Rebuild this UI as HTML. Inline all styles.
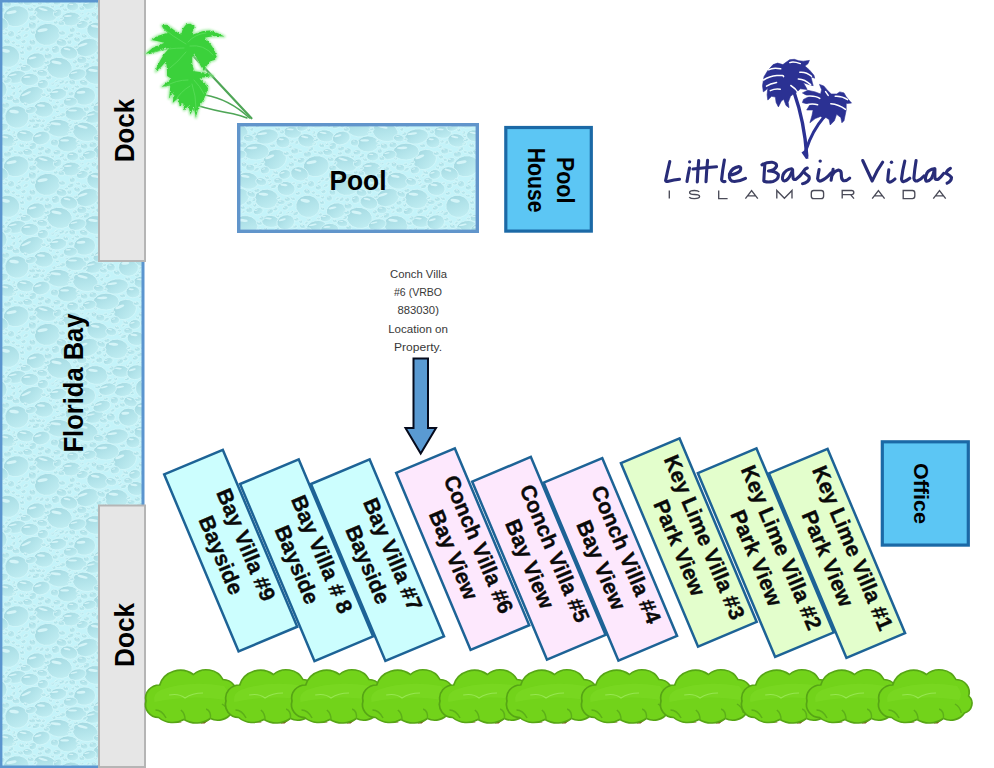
<!DOCTYPE html>
<html><head><meta charset="utf-8"><style>
html,body{margin:0;padding:0;background:#fff;overflow:hidden;width:994px;height:768px;}
svg{display:block;}
text{font-family:"Liberation Sans",sans-serif;}
.b{font-weight:bold;fill:#000;}
.vt text{font-weight:bold;font-size:21.6px;text-anchor:middle;dominant-baseline:central;fill:#0a0a0a;stroke:#0a0a0a;stroke-width:0.35px;}
.note{font-size:11.5px;fill:#383838;text-anchor:middle;}
</style></head><body>
<svg width="994" height="768" viewBox="0 0 994 768">
<defs>
<filter id="glow" x="-10%" y="-10%" width="120%" height="120%"><feGaussianBlur stdDeviation="1.3"/></filter>
<filter id="rough" x="-5%" y="-5%" width="110%" height="110%"><feTurbulence type="fractalNoise" baseFrequency="0.4" numOctaves="1" seed="4"/><feDisplacementMap in="SourceGraphic" scale="3.2" xChannelSelector="R" yChannelSelector="G"/></filter>
<linearGradient id="dg" x1="0" y1="0" x2="0.7" y2="1">
<stop offset="0" stop-color="#9dd3dc"/><stop offset="0.5" stop-color="#b0e2e9"/><stop offset="1" stop-color="#c0edf2"/>
</linearGradient>
<pattern id="water" width="150" height="150" patternUnits="userSpaceOnUse">
<rect width="150" height="150" fill="#c4f3f9"/>
<g transform="translate(128.5,117.2) rotate(-2.4)"><ellipse rx="10" ry="9" fill="url(#dg)" stroke="#d3f7fa" stroke-width="0.8"/><ellipse cx="-3" cy="-4.1" rx="4" ry="1.4" fill="#defafc" opacity="0.8"/></g>
<g transform="translate(120.6,71.4) rotate(5.7)"><ellipse rx="9" ry="6" fill="url(#dg)" stroke="#d3f7fa" stroke-width="0.8"/><ellipse cx="-2.7" cy="-2.7" rx="3.6" ry="0.9" fill="#defafc" opacity="0.8"/></g>
<g transform="translate(45.5,13.6) rotate(15.5)"><ellipse rx="12" ry="7.6" fill="url(#dg)" stroke="#d3f7fa" stroke-width="0.8"/><ellipse cx="-3.6" cy="-3.4" rx="4.8" ry="1.1" fill="#defafc" opacity="0.8"/></g>
<g transform="translate(59.4,67.9) rotate(11.9)"><ellipse rx="13" ry="10.5" fill="url(#dg)" stroke="#d3f7fa" stroke-width="0.8"/><ellipse cx="-3.9" cy="-4.7" rx="5.2" ry="1.6" fill="#defafc" opacity="0.8"/></g>
<g transform="translate(124.8,9.5) rotate(-23.2)"><ellipse rx="12" ry="9.8" fill="url(#dg)" stroke="#d3f7fa" stroke-width="0.8"/><ellipse cx="-3.6" cy="-4.4" rx="4.8" ry="1.5" fill="#defafc" opacity="0.8"/></g>
<g transform="translate(124.8,159.5) rotate(-23.2)"><ellipse rx="12" ry="9.8" fill="url(#dg)" stroke="#d3f7fa" stroke-width="0.8"/><ellipse cx="-3.6" cy="-4.4" rx="4.8" ry="1.5" fill="#defafc" opacity="0.8"/></g>
<g transform="translate(116.7,48.9) rotate(4.5)"><ellipse rx="12" ry="9.7" fill="url(#dg)" stroke="#d3f7fa" stroke-width="0.8"/><ellipse cx="-3.6" cy="-4.4" rx="4.8" ry="1.5" fill="#defafc" opacity="0.8"/></g>
<g transform="translate(96,75) rotate(8.1)"><ellipse rx="12" ry="9.4" fill="url(#dg)" stroke="#d3f7fa" stroke-width="0.8"/><ellipse cx="-3.6" cy="-4.2" rx="4.8" ry="1.4" fill="#defafc" opacity="0.8"/></g>
<g transform="translate(47.3,34.4) rotate(-10.5)"><ellipse rx="13" ry="11" fill="url(#dg)" stroke="#d3f7fa" stroke-width="0.8"/><ellipse cx="-3.9" cy="-5" rx="5.2" ry="1.7" fill="#defafc" opacity="0.8"/></g>
<g transform="translate(16.2,16.2) rotate(-10.5)"><ellipse rx="13" ry="10.4" fill="url(#dg)" stroke="#d3f7fa" stroke-width="0.8"/><ellipse cx="-3.9" cy="-4.7" rx="5.2" ry="1.6" fill="#defafc" opacity="0.8"/></g>
<g transform="translate(7.8,56.3) rotate(10.4)"><ellipse rx="12" ry="11.1" fill="url(#dg)" stroke="#d3f7fa" stroke-width="0.8"/><ellipse cx="-3.6" cy="-5" rx="4.8" ry="1.7" fill="#defafc" opacity="0.8"/></g>
<g transform="translate(157.8,56.3) rotate(10.4)"><ellipse rx="12" ry="11.1" fill="url(#dg)" stroke="#d3f7fa" stroke-width="0.8"/><ellipse cx="-3.6" cy="-5" rx="4.8" ry="1.7" fill="#defafc" opacity="0.8"/></g>
<g transform="translate(94.4,116.8) rotate(-11.5)"><ellipse rx="10" ry="6.3" fill="url(#dg)" stroke="#d3f7fa" stroke-width="0.8"/><ellipse cx="-3" cy="-2.8" rx="4" ry="0.9" fill="#defafc" opacity="0.8"/></g>
<g transform="translate(106.1,1.6) rotate(-1.8)"><ellipse rx="13" ry="8.4" fill="url(#dg)" stroke="#d3f7fa" stroke-width="0.8"/><ellipse cx="-3.9" cy="-3.8" rx="5.2" ry="1.3" fill="#defafc" opacity="0.8"/></g>
<g transform="translate(106.1,151.6) rotate(-1.8)"><ellipse rx="13" ry="8.4" fill="url(#dg)" stroke="#d3f7fa" stroke-width="0.8"/><ellipse cx="-3.9" cy="-3.8" rx="5.2" ry="1.3" fill="#defafc" opacity="0.8"/></g>
<g transform="translate(-3.8,88.9) rotate(24.9)"><ellipse rx="11" ry="9.9" fill="url(#dg)" stroke="#d3f7fa" stroke-width="0.8"/><ellipse cx="-3.3" cy="-4.5" rx="4.4" ry="1.5" fill="#defafc" opacity="0.8"/></g>
<g transform="translate(146.2,88.9) rotate(24.9)"><ellipse rx="11" ry="9.9" fill="url(#dg)" stroke="#d3f7fa" stroke-width="0.8"/><ellipse cx="-3.3" cy="-4.5" rx="4.4" ry="1.5" fill="#defafc" opacity="0.8"/></g>
<g transform="translate(59.1,128.2) rotate(7.1)"><ellipse rx="13" ry="8.8" fill="url(#dg)" stroke="#d3f7fa" stroke-width="0.8"/><ellipse cx="-3.9" cy="-3.9" rx="5.2" ry="1.3" fill="#defafc" opacity="0.8"/></g>
<g transform="translate(31.3,95.5) rotate(-24.2)"><ellipse rx="13" ry="8.1" fill="url(#dg)" stroke="#d3f7fa" stroke-width="0.8"/><ellipse cx="-3.9" cy="-3.7" rx="5.2" ry="1.2" fill="#defafc" opacity="0.8"/></g>
<g transform="translate(68,-6.1) rotate(-0.8)"><ellipse rx="11" ry="8" fill="url(#dg)" stroke="#d3f7fa" stroke-width="0.8"/><ellipse cx="-3.3" cy="-3.6" rx="4.4" ry="1.2" fill="#defafc" opacity="0.8"/></g>
<g transform="translate(68,143.9) rotate(-0.8)"><ellipse rx="11" ry="8" fill="url(#dg)" stroke="#d3f7fa" stroke-width="0.8"/><ellipse cx="-3.3" cy="-3.6" rx="4.4" ry="1.2" fill="#defafc" opacity="0.8"/></g>
<g transform="translate(57.9,94.1) rotate(-9.5)"><ellipse rx="9" ry="5.8" fill="url(#dg)" stroke="#d3f7fa" stroke-width="0.8"/><ellipse cx="-2.7" cy="-2.6" rx="3.6" ry="0.9" fill="#defafc" opacity="0.8"/></g>
<g transform="translate(-7.5,132.3) rotate(5.2)"><ellipse rx="9" ry="6" fill="url(#dg)" stroke="#d3f7fa" stroke-width="0.8"/><ellipse cx="-2.7" cy="-2.7" rx="3.6" ry="0.9" fill="#defafc" opacity="0.8"/></g>
<g transform="translate(142.5,132.3) rotate(5.2)"><ellipse rx="9" ry="6" fill="url(#dg)" stroke="#d3f7fa" stroke-width="0.8"/><ellipse cx="-2.7" cy="-2.7" rx="3.6" ry="0.9" fill="#defafc" opacity="0.8"/></g>
<g transform="translate(16.4,76.9) rotate(-12.2)"><ellipse rx="10" ry="6.2" fill="url(#dg)" stroke="#d3f7fa" stroke-width="0.8"/><ellipse cx="-3" cy="-2.8" rx="4" ry="0.9" fill="#defafc" opacity="0.8"/></g>
<g transform="translate(123.6,89.5) rotate(-10.3)"><ellipse rx="10" ry="6.9" fill="url(#dg)" stroke="#d3f7fa" stroke-width="0.8"/><ellipse cx="-3" cy="-3.1" rx="4" ry="1" fill="#defafc" opacity="0.8"/></g>
<g transform="translate(6.7,140.4) rotate(11.9)"><ellipse rx="9" ry="6.6" fill="url(#dg)" stroke="#d3f7fa" stroke-width="0.8"/><ellipse cx="-2.7" cy="-3" rx="3.6" ry="1" fill="#defafc" opacity="0.8"/></g>
<g transform="translate(156.7,140.4) rotate(11.9)"><ellipse rx="9" ry="6.6" fill="url(#dg)" stroke="#d3f7fa" stroke-width="0.8"/><ellipse cx="-2.7" cy="-3" rx="3.6" ry="1" fill="#defafc" opacity="0.8"/></g>
<g transform="translate(16.9,117) rotate(8)"><ellipse rx="12" ry="11.2" fill="url(#dg)" stroke="#d3f7fa" stroke-width="0.8"/><ellipse cx="-3.6" cy="-5" rx="4.8" ry="1.7" fill="#defafc" opacity="0.8"/></g>
<g transform="translate(25.4,135.9) rotate(8)"><ellipse rx="9" ry="6" fill="url(#dg)" stroke="#d3f7fa" stroke-width="0.8"/><ellipse cx="-2.7" cy="-2.7" rx="3.6" ry="0.9" fill="#defafc" opacity="0.8"/></g>
<g transform="translate(36.2,60.7) rotate(-12.5)"><ellipse rx="10" ry="7.7" fill="url(#dg)" stroke="#d3f7fa" stroke-width="0.8"/><ellipse cx="-3" cy="-3.5" rx="4" ry="1.2" fill="#defafc" opacity="0.8"/></g>
<g transform="translate(87.5,47.5) rotate(-18.2)"><ellipse rx="12" ry="8.8" fill="url(#dg)" stroke="#d3f7fa" stroke-width="0.8"/><ellipse cx="-3.6" cy="-4" rx="4.8" ry="1.3" fill="#defafc" opacity="0.8"/></g>
<g transform="translate(84.6,96.1) rotate(-4.7)"><ellipse rx="11" ry="9.1" fill="url(#dg)" stroke="#d3f7fa" stroke-width="0.8"/><ellipse cx="-3.3" cy="-4.1" rx="4.4" ry="1.4" fill="#defafc" opacity="0.8"/></g>
<g transform="translate(-0.5,23.9) rotate(17.4)"><ellipse rx="9" ry="7" fill="url(#dg)" stroke="#d3f7fa" stroke-width="0.8"/><ellipse cx="-2.7" cy="-3.1" rx="3.6" ry="1" fill="#defafc" opacity="0.8"/></g>
<g transform="translate(149.5,23.9) rotate(17.4)"><ellipse rx="9" ry="7" fill="url(#dg)" stroke="#d3f7fa" stroke-width="0.8"/><ellipse cx="-2.7" cy="-3.1" rx="3.6" ry="1" fill="#defafc" opacity="0.8"/></g>
<g transform="translate(85.3,131.9) rotate(14.8)"><ellipse rx="13" ry="9.5" fill="url(#dg)" stroke="#d3f7fa" stroke-width="0.8"/><ellipse cx="-3.9" cy="-4.3" rx="5.2" ry="1.4" fill="#defafc" opacity="0.8"/></g>
<g transform="translate(97.7,30.7) rotate(11.1)"><ellipse rx="11" ry="8.4" fill="url(#dg)" stroke="#d3f7fa" stroke-width="0.8"/><ellipse cx="-3.3" cy="-3.8" rx="4.4" ry="1.3" fill="#defafc" opacity="0.8"/></g>
<g transform="translate(41.3,138) rotate(-14.1)"><ellipse rx="9" ry="6.7" fill="url(#dg)" stroke="#d3f7fa" stroke-width="0.8"/><ellipse cx="-2.7" cy="-3" rx="3.6" ry="1" fill="#defafc" opacity="0.8"/></g>
<g transform="translate(43.5,109.3) rotate(6.9)"><ellipse rx="10" ry="7.8" fill="url(#dg)" stroke="#d3f7fa" stroke-width="0.8"/><ellipse cx="-3" cy="-3.5" rx="4" ry="1.2" fill="#defafc" opacity="0.8"/></g>
<g transform="translate(136.1,38.5) rotate(8.6)"><ellipse rx="9" ry="7" fill="url(#dg)" stroke="#d3f7fa" stroke-width="0.8"/><ellipse cx="-2.7" cy="-3.2" rx="3.6" ry="1.1" fill="#defafc" opacity="0.8"/></g>
<g transform="translate(71,19) rotate(-3.3)"><ellipse rx="10" ry="6.9" fill="url(#dg)" stroke="#d3f7fa" stroke-width="0.8"/><ellipse cx="-3" cy="-3.1" rx="4" ry="1" fill="#defafc" opacity="0.8"/></g>
<g transform="translate(29.7,79.6) rotate(-3.2)"><ellipse rx="9" ry="6.2" fill="url(#dg)" stroke="#d3f7fa" stroke-width="0.8"/><ellipse cx="-2.7" cy="-2.8" rx="3.6" ry="0.9" fill="#defafc" opacity="0.8"/></g>
<g transform="translate(75.9,113.7) rotate(0.1)"><ellipse rx="11" ry="7" fill="url(#dg)" stroke="#d3f7fa" stroke-width="0.8"/><ellipse cx="-3.3" cy="-3.2" rx="4.4" ry="1.1" fill="#defafc" opacity="0.8"/></g>
<g transform="translate(135.8,72.2) rotate(-15.5)"><ellipse rx="9" ry="7.3" fill="url(#dg)" stroke="#d3f7fa" stroke-width="0.8"/><ellipse cx="-2.7" cy="-3.3" rx="3.6" ry="1.1" fill="#defafc" opacity="0.8"/></g>
<g transform="translate(77.2,74.6) rotate(-14.3)"><ellipse rx="9" ry="5.6" fill="url(#dg)" stroke="#d3f7fa" stroke-width="0.8"/><ellipse cx="-2.7" cy="-2.5" rx="3.6" ry="0.8" fill="#defafc" opacity="0.8"/></g>
<g transform="translate(-4.8,109.5) rotate(0.8)"><ellipse rx="11" ry="7.5" fill="url(#dg)" stroke="#d3f7fa" stroke-width="0.8"/><ellipse cx="-3.3" cy="-3.4" rx="4.4" ry="1.1" fill="#defafc" opacity="0.8"/></g>
<g transform="translate(145.2,109.5) rotate(0.8)"><ellipse rx="11" ry="7.5" fill="url(#dg)" stroke="#d3f7fa" stroke-width="0.8"/><ellipse cx="-3.3" cy="-3.4" rx="4.4" ry="1.1" fill="#defafc" opacity="0.8"/></g>
<g transform="translate(68.9,52.6) rotate(15.4)"><ellipse rx="9" ry="6.5" fill="url(#dg)" stroke="#d3f7fa" stroke-width="0.8"/><ellipse cx="-2.7" cy="-2.9" rx="3.6" ry="1" fill="#defafc" opacity="0.8"/></g>
<g transform="translate(107.6,89.2) rotate(-13.8)"><ellipse rx="9" ry="6.1" fill="url(#dg)" stroke="#d3f7fa" stroke-width="0.8"/><ellipse cx="-2.7" cy="-2.8" rx="3.6" ry="0.9" fill="#defafc" opacity="0.8"/></g>
<g transform="translate(101.7,106.2) rotate(-16)"><ellipse rx="9" ry="5.7" fill="url(#dg)" stroke="#d3f7fa" stroke-width="0.8"/><ellipse cx="-2.7" cy="-2.6" rx="3.6" ry="0.9" fill="#defafc" opacity="0.8"/></g>
<g transform="translate(116.5,136.5) rotate(-9)"><ellipse rx="12" ry="7.5" fill="url(#dg)" stroke="#d3f7fa" stroke-width="0.8"/><ellipse cx="-3.6" cy="-3.4" rx="4.8" ry="1.1" fill="#defafc" opacity="0.8"/></g>
<g transform="translate(110.8,117.1) rotate(13.3)"><ellipse rx="4.5" ry="4" fill="url(#dg)" stroke="#d3f7fa" stroke-width="0.8"/><ellipse cx="-1.3" cy="-1.8" rx="1.8" ry="0.6" fill="#defafc" opacity="0.8"/></g>
<g transform="translate(123.1,25.7) rotate(-12.3)"><ellipse rx="2" ry="1.3" fill="url(#dg)" stroke="#d3f7fa" stroke-width="0.8"/><ellipse cx="-0.6" cy="-0.6" rx="0.8" ry="0.5" fill="#defafc" opacity="0.8"/></g>
<g transform="translate(139.9,54.6) rotate(-8.1)"><ellipse rx="3" ry="2.3" fill="url(#dg)" stroke="#d3f7fa" stroke-width="0.8"/><ellipse cx="-0.9" cy="-1" rx="1.2" ry="0.5" fill="#defafc" opacity="0.8"/></g>
<g transform="translate(82.4,24.6) rotate(-14.8)"><ellipse rx="6" ry="4" fill="url(#dg)" stroke="#d3f7fa" stroke-width="0.8"/><ellipse cx="-1.8" cy="-1.8" rx="2.4" ry="0.6" fill="#defafc" opacity="0.8"/></g>
<g transform="translate(101.9,129.4) rotate(-14.8)"><ellipse rx="2" ry="1.9" fill="url(#dg)" stroke="#d3f7fa" stroke-width="0.8"/><ellipse cx="-0.6" cy="-0.9" rx="0.8" ry="0.5" fill="#defafc" opacity="0.8"/></g>
<g transform="translate(7.1,41.5) rotate(22.4)"><ellipse rx="3.5" ry="2.6" fill="url(#dg)" stroke="#d3f7fa" stroke-width="0.8"/><ellipse cx="-1.1" cy="-1.2" rx="1.4" ry="0.5" fill="#defafc" opacity="0.8"/></g>
<g transform="translate(36.1,125.9) rotate(-19)"><ellipse rx="4" ry="2.6" fill="url(#dg)" stroke="#d3f7fa" stroke-width="0.8"/><ellipse cx="-1.2" cy="-1.2" rx="1.6" ry="0.5" fill="#defafc" opacity="0.8"/></g>
<g transform="translate(89.3,4.8) rotate(-9.4)"><ellipse rx="7" ry="4.6" fill="url(#dg)" stroke="#d3f7fa" stroke-width="0.8"/><ellipse cx="-2.1" cy="-2.1" rx="2.8" ry="0.7" fill="#defafc" opacity="0.8"/></g>
<g transform="translate(89.3,154.8) rotate(-9.4)"><ellipse rx="7" ry="4.6" fill="url(#dg)" stroke="#d3f7fa" stroke-width="0.8"/><ellipse cx="-2.1" cy="-2.1" rx="2.8" ry="0.7" fill="#defafc" opacity="0.8"/></g>
<g transform="translate(22.5,28.9) rotate(-13.6)"><ellipse rx="2" ry="1.9" fill="url(#dg)" stroke="#d3f7fa" stroke-width="0.8"/><ellipse cx="-0.6" cy="-0.8" rx="0.8" ry="0.5" fill="#defafc" opacity="0.8"/></g>
<g transform="translate(37.4,48.7) rotate(-16.1)"><ellipse rx="2" ry="1.4" fill="url(#dg)" stroke="#d3f7fa" stroke-width="0.8"/><ellipse cx="-0.6" cy="-0.6" rx="0.8" ry="0.5" fill="#defafc" opacity="0.8"/></g>
<g transform="translate(93.2,61.9) rotate(-0.9)"><ellipse rx="2" ry="1.2" fill="url(#dg)" stroke="#d3f7fa" stroke-width="0.8"/><ellipse cx="-0.6" cy="-0.6" rx="0.8" ry="0.5" fill="#defafc" opacity="0.8"/></g>
<g transform="translate(128.4,30.7) rotate(3.2)"><ellipse rx="4.5" ry="3" fill="url(#dg)" stroke="#d3f7fa" stroke-width="0.8"/><ellipse cx="-1.3" cy="-1.3" rx="1.8" ry="0.5" fill="#defafc" opacity="0.8"/></g>
<g transform="translate(27.7,2.1) rotate(4.3)"><ellipse rx="5" ry="3.4" fill="url(#dg)" stroke="#d3f7fa" stroke-width="0.8"/><ellipse cx="-1.5" cy="-1.5" rx="2" ry="0.5" fill="#defafc" opacity="0.8"/></g>
<g transform="translate(27.7,152.1) rotate(4.3)"><ellipse rx="5" ry="3.4" fill="url(#dg)" stroke="#d3f7fa" stroke-width="0.8"/><ellipse cx="-1.5" cy="-1.5" rx="2" ry="0.5" fill="#defafc" opacity="0.8"/></g>
<g transform="translate(108.3,61.2) rotate(-17.9)"><ellipse rx="5" ry="3.4" fill="url(#dg)" stroke="#d3f7fa" stroke-width="0.8"/><ellipse cx="-1.5" cy="-1.5" rx="2" ry="0.5" fill="#defafc" opacity="0.8"/></g>
<g transform="translate(32.5,42.4) rotate(18.3)"><ellipse rx="3.5" ry="2.9" fill="url(#dg)" stroke="#d3f7fa" stroke-width="0.8"/><ellipse cx="-1.1" cy="-1.3" rx="1.4" ry="0.5" fill="#defafc" opacity="0.8"/></g>
<g transform="translate(16.1,140) rotate(-12.4)"><ellipse rx="2.5" ry="1.7" fill="url(#dg)" stroke="#d3f7fa" stroke-width="0.8"/><ellipse cx="-0.8" cy="-0.7" rx="1" ry="0.5" fill="#defafc" opacity="0.8"/></g>
<g transform="translate(52.7,84) rotate(2.9)"><ellipse rx="2" ry="1.2" fill="url(#dg)" stroke="#d3f7fa" stroke-width="0.8"/><ellipse cx="-0.6" cy="-0.6" rx="0.8" ry="0.5" fill="#defafc" opacity="0.8"/></g>
<g transform="translate(141.1,7) rotate(17.9)"><ellipse rx="2.5" ry="2" fill="url(#dg)" stroke="#d3f7fa" stroke-width="0.8"/><ellipse cx="-0.8" cy="-0.9" rx="1" ry="0.5" fill="#defafc" opacity="0.8"/></g>
<g transform="translate(136.4,3.5) rotate(3.8)"><ellipse rx="3" ry="2.1" fill="url(#dg)" stroke="#d3f7fa" stroke-width="0.8"/><ellipse cx="-0.9" cy="-0.9" rx="1.2" ry="0.5" fill="#defafc" opacity="0.8"/></g>
<g transform="translate(10,98) rotate(4.7)"><ellipse rx="4" ry="2.8" fill="url(#dg)" stroke="#d3f7fa" stroke-width="0.8"/><ellipse cx="-1.2" cy="-1.3" rx="1.6" ry="0.5" fill="#defafc" opacity="0.8"/></g>
<g transform="translate(111.2,31.7) rotate(12.2)"><ellipse rx="5.5" ry="3.9" fill="url(#dg)" stroke="#d3f7fa" stroke-width="0.8"/><ellipse cx="-1.6" cy="-1.8" rx="2.2" ry="0.6" fill="#defafc" opacity="0.8"/></g>
<g transform="translate(122.5,105) rotate(17.2)"><ellipse rx="3" ry="2.2" fill="url(#dg)" stroke="#d3f7fa" stroke-width="0.8"/><ellipse cx="-0.9" cy="-1" rx="1.2" ry="0.5" fill="#defafc" opacity="0.8"/></g>
<g transform="translate(1.2,10.4) rotate(-14.7)"><ellipse rx="4" ry="2.8" fill="url(#dg)" stroke="#d3f7fa" stroke-width="0.8"/><ellipse cx="-1.2" cy="-1.3" rx="1.6" ry="0.5" fill="#defafc" opacity="0.8"/></g>
<g transform="translate(151.2,10.4) rotate(-14.7)"><ellipse rx="4" ry="2.8" fill="url(#dg)" stroke="#d3f7fa" stroke-width="0.8"/><ellipse cx="-1.2" cy="-1.3" rx="1.6" ry="0.5" fill="#defafc" opacity="0.8"/></g>
<g transform="translate(62.1,33.1) rotate(7)"><ellipse rx="3.5" ry="2.3" fill="url(#dg)" stroke="#d3f7fa" stroke-width="0.8"/><ellipse cx="-1.1" cy="-1.1" rx="1.4" ry="0.5" fill="#defafc" opacity="0.8"/></g>
<g transform="translate(84.2,-3.8) rotate(13.8)"><ellipse rx="4" ry="3" fill="url(#dg)" stroke="#d3f7fa" stroke-width="0.8"/><ellipse cx="-1.2" cy="-1.3" rx="1.6" ry="0.5" fill="#defafc" opacity="0.8"/></g>
<g transform="translate(84.2,146.2) rotate(13.8)"><ellipse rx="4" ry="3" fill="url(#dg)" stroke="#d3f7fa" stroke-width="0.8"/><ellipse cx="-1.2" cy="-1.3" rx="1.6" ry="0.5" fill="#defafc" opacity="0.8"/></g>
<g transform="translate(133,142) rotate(3.4)"><ellipse rx="7" ry="5.8" fill="url(#dg)" stroke="#d3f7fa" stroke-width="0.8"/><ellipse cx="-2.1" cy="-2.6" rx="2.8" ry="0.9" fill="#defafc" opacity="0.8"/></g>
<g transform="translate(144.9,1.1) rotate(4.7)"><ellipse rx="4" ry="3" fill="url(#dg)" stroke="#d3f7fa" stroke-width="0.8"/><ellipse cx="-1.2" cy="-1.3" rx="1.6" ry="0.5" fill="#defafc" opacity="0.8"/></g>
<g transform="translate(144.9,151.1) rotate(4.7)"><ellipse rx="4" ry="3" fill="url(#dg)" stroke="#d3f7fa" stroke-width="0.8"/><ellipse cx="-1.2" cy="-1.3" rx="1.6" ry="0.5" fill="#defafc" opacity="0.8"/></g>
<g transform="translate(72.3,82.4) rotate(17.7)"><ellipse rx="3.5" ry="2.7" fill="url(#dg)" stroke="#d3f7fa" stroke-width="0.8"/><ellipse cx="-1.1" cy="-1.2" rx="1.4" ry="0.5" fill="#defafc" opacity="0.8"/></g>
<g transform="translate(54.6,142.7) rotate(10.9)"><ellipse rx="4" ry="3.4" fill="url(#dg)" stroke="#d3f7fa" stroke-width="0.8"/><ellipse cx="-1.2" cy="-1.5" rx="1.6" ry="0.5" fill="#defafc" opacity="0.8"/></g>
<g transform="translate(43,84.1) rotate(-11.9)"><ellipse rx="5.5" ry="4.6" fill="url(#dg)" stroke="#d3f7fa" stroke-width="0.8"/><ellipse cx="-1.6" cy="-2.1" rx="2.2" ry="0.7" fill="#defafc" opacity="0.8"/></g>
<g transform="translate(70.4,101.8) rotate(-3.1)"><ellipse rx="7" ry="4.6" fill="url(#dg)" stroke="#d3f7fa" stroke-width="0.8"/><ellipse cx="-2.1" cy="-2.1" rx="2.8" ry="0.7" fill="#defafc" opacity="0.8"/></g>
<g transform="translate(99.4,60.1) rotate(-0.1)"><ellipse rx="3.5" ry="2.9" fill="url(#dg)" stroke="#d3f7fa" stroke-width="0.8"/><ellipse cx="-1.1" cy="-1.3" rx="1.4" ry="0.5" fill="#defafc" opacity="0.8"/></g>
<g transform="translate(47.9,95.9) rotate(-21.9)"><ellipse rx="2.5" ry="1.5" fill="url(#dg)" stroke="#d3f7fa" stroke-width="0.8"/><ellipse cx="-0.8" cy="-0.7" rx="1" ry="0.5" fill="#defafc" opacity="0.8"/></g>
<g transform="translate(22.7,47.4) rotate(8.3)"><ellipse rx="2" ry="1.8" fill="url(#dg)" stroke="#d3f7fa" stroke-width="0.8"/><ellipse cx="-0.6" cy="-0.8" rx="0.8" ry="0.5" fill="#defafc" opacity="0.8"/></g>
<g transform="translate(106.6,19.3) rotate(-22.3)"><ellipse rx="3" ry="1.8" fill="url(#dg)" stroke="#d3f7fa" stroke-width="0.8"/><ellipse cx="-0.9" cy="-0.8" rx="1.2" ry="0.5" fill="#defafc" opacity="0.8"/></g>
<g transform="translate(57.5,111.4) rotate(11.5)"><ellipse rx="2" ry="1.5" fill="url(#dg)" stroke="#d3f7fa" stroke-width="0.8"/><ellipse cx="-0.6" cy="-0.7" rx="0.8" ry="0.5" fill="#defafc" opacity="0.8"/></g>
<g transform="translate(11.2,34) rotate(-13.6)"><ellipse rx="3.5" ry="3.2" fill="url(#dg)" stroke="#d3f7fa" stroke-width="0.8"/><ellipse cx="-1.1" cy="-1.4" rx="1.4" ry="0.5" fill="#defafc" opacity="0.8"/></g>
<g transform="translate(62.4,115) rotate(-12)"><ellipse rx="3.5" ry="2.1" fill="url(#dg)" stroke="#d3f7fa" stroke-width="0.8"/><ellipse cx="-1.1" cy="-1" rx="1.4" ry="0.5" fill="#defafc" opacity="0.8"/></g>
<g transform="translate(43.4,120.9) rotate(-4)"><ellipse rx="2" ry="1.7" fill="url(#dg)" stroke="#d3f7fa" stroke-width="0.8"/><ellipse cx="-0.6" cy="-0.7" rx="0.8" ry="0.5" fill="#defafc" opacity="0.8"/></g>
<g transform="translate(75.1,62) rotate(-5.5)"><ellipse rx="2.5" ry="2.1" fill="url(#dg)" stroke="#d3f7fa" stroke-width="0.8"/><ellipse cx="-0.8" cy="-0.9" rx="1" ry="0.5" fill="#defafc" opacity="0.8"/></g>
<g transform="translate(111.7,68.2) rotate(-5.1)"><ellipse rx="2.5" ry="2.1" fill="url(#dg)" stroke="#d3f7fa" stroke-width="0.8"/><ellipse cx="-0.8" cy="-0.9" rx="1" ry="0.5" fill="#defafc" opacity="0.8"/></g>
<g transform="translate(46.5,129.3) rotate(0.8)"><ellipse rx="3" ry="2.3" fill="url(#dg)" stroke="#d3f7fa" stroke-width="0.8"/><ellipse cx="-0.9" cy="-1.1" rx="1.2" ry="0.5" fill="#defafc" opacity="0.8"/></g>
<g transform="translate(82,8.4) rotate(10.5)"><ellipse rx="3" ry="2.4" fill="url(#dg)" stroke="#d3f7fa" stroke-width="0.8"/><ellipse cx="-0.9" cy="-1.1" rx="1.2" ry="0.5" fill="#defafc" opacity="0.8"/></g>
<g transform="translate(-2.3,120.8) rotate(20.1)"><ellipse rx="2" ry="1.7" fill="url(#dg)" stroke="#d3f7fa" stroke-width="0.8"/><ellipse cx="-0.6" cy="-0.7" rx="0.8" ry="0.5" fill="#defafc" opacity="0.8"/></g>
<g transform="translate(147.7,120.8) rotate(20.1)"><ellipse rx="2" ry="1.7" fill="url(#dg)" stroke="#d3f7fa" stroke-width="0.8"/><ellipse cx="-0.6" cy="-0.7" rx="0.8" ry="0.5" fill="#defafc" opacity="0.8"/></g>
<g transform="translate(48,1.1) rotate(-4.5)"><ellipse rx="3.5" ry="3.2" fill="url(#dg)" stroke="#d3f7fa" stroke-width="0.8"/><ellipse cx="-1.1" cy="-1.5" rx="1.4" ry="0.5" fill="#defafc" opacity="0.8"/></g>
<g transform="translate(48,151.1) rotate(-4.5)"><ellipse rx="3.5" ry="3.2" fill="url(#dg)" stroke="#d3f7fa" stroke-width="0.8"/><ellipse cx="-1.1" cy="-1.5" rx="1.4" ry="0.5" fill="#defafc" opacity="0.8"/></g>
<g transform="translate(55.7,49.5) rotate(-17.6)"><ellipse rx="4" ry="3.8" fill="url(#dg)" stroke="#d3f7fa" stroke-width="0.8"/><ellipse cx="-1.2" cy="-1.7" rx="1.6" ry="0.6" fill="#defafc" opacity="0.8"/></g>
<g transform="translate(72.7,6.4) rotate(2.1)"><ellipse rx="6" ry="4.5" fill="url(#dg)" stroke="#d3f7fa" stroke-width="0.8"/><ellipse cx="-1.8" cy="-2" rx="2.4" ry="0.7" fill="#defafc" opacity="0.8"/></g>
<g transform="translate(84.3,36.2) rotate(11.2)"><ellipse rx="3" ry="2.1" fill="url(#dg)" stroke="#d3f7fa" stroke-width="0.8"/><ellipse cx="-0.9" cy="-0.9" rx="1.2" ry="0.5" fill="#defafc" opacity="0.8"/></g>
<g transform="translate(18.5,37.5) rotate(-1.7)"><ellipse rx="3" ry="2.6" fill="url(#dg)" stroke="#d3f7fa" stroke-width="0.8"/><ellipse cx="-0.9" cy="-1.2" rx="1.2" ry="0.5" fill="#defafc" opacity="0.8"/></g>
<g transform="translate(14,132.6) rotate(-21.5)"><ellipse rx="2" ry="1.6" fill="url(#dg)" stroke="#d3f7fa" stroke-width="0.8"/><ellipse cx="-0.6" cy="-0.7" rx="0.8" ry="0.5" fill="#defafc" opacity="0.8"/></g>
<g transform="translate(8.9,69.9) rotate(2.4)"><ellipse rx="2.5" ry="1.5" fill="url(#dg)" stroke="#d3f7fa" stroke-width="0.8"/><ellipse cx="-0.8" cy="-0.7" rx="1" ry="0.5" fill="#defafc" opacity="0.8"/></g>
<g transform="translate(81.9,60) rotate(3.3)"><ellipse rx="5" ry="3.7" fill="url(#dg)" stroke="#d3f7fa" stroke-width="0.8"/><ellipse cx="-1.5" cy="-1.7" rx="2" ry="0.6" fill="#defafc" opacity="0.8"/></g>
<g transform="translate(13.9,93.4) rotate(-24.6)"><ellipse rx="2" ry="1.8" fill="url(#dg)" stroke="#d3f7fa" stroke-width="0.8"/><ellipse cx="-0.6" cy="-0.8" rx="0.8" ry="0.5" fill="#defafc" opacity="0.8"/></g>
<g transform="translate(145.3,76.6) rotate(-11.6)"><ellipse rx="2.5" ry="1.6" fill="url(#dg)" stroke="#d3f7fa" stroke-width="0.8"/><ellipse cx="-0.8" cy="-0.7" rx="1" ry="0.5" fill="#defafc" opacity="0.8"/></g>
<g transform="translate(25.6,68.1) rotate(-3.6)"><ellipse rx="5.5" ry="3.5" fill="url(#dg)" stroke="#d3f7fa" stroke-width="0.8"/><ellipse cx="-1.6" cy="-1.6" rx="2.2" ry="0.5" fill="#defafc" opacity="0.8"/></g>
<g transform="translate(2.7,127.2) rotate(-17)"><ellipse rx="6" ry="3.8" fill="url(#dg)" stroke="#d3f7fa" stroke-width="0.8"/><ellipse cx="-1.8" cy="-1.7" rx="2.4" ry="0.6" fill="#defafc" opacity="0.8"/></g>
<g transform="translate(152.7,127.2) rotate(-17)"><ellipse rx="6" ry="3.8" fill="url(#dg)" stroke="#d3f7fa" stroke-width="0.8"/><ellipse cx="-1.8" cy="-1.7" rx="2.4" ry="0.6" fill="#defafc" opacity="0.8"/></g>
<g transform="translate(32.4,25.6) rotate(9.1)"><ellipse rx="4" ry="3.6" fill="url(#dg)" stroke="#d3f7fa" stroke-width="0.8"/><ellipse cx="-1.2" cy="-1.6" rx="1.6" ry="0.5" fill="#defafc" opacity="0.8"/></g>
<g transform="translate(-2,43.4) rotate(-3.4)"><ellipse rx="2.5" ry="1.9" fill="url(#dg)" stroke="#d3f7fa" stroke-width="0.8"/><ellipse cx="-0.8" cy="-0.9" rx="1" ry="0.5" fill="#defafc" opacity="0.8"/></g>
<g transform="translate(148,43.4) rotate(-3.4)"><ellipse rx="2.5" ry="1.9" fill="url(#dg)" stroke="#d3f7fa" stroke-width="0.8"/><ellipse cx="-0.8" cy="-0.9" rx="1" ry="0.5" fill="#defafc" opacity="0.8"/></g>
<g transform="translate(130.4,101.8) rotate(19.6)"><ellipse rx="7" ry="4.8" fill="url(#dg)" stroke="#d3f7fa" stroke-width="0.8"/><ellipse cx="-2.1" cy="-2.2" rx="2.8" ry="0.7" fill="#defafc" opacity="0.8"/></g>
<g transform="translate(57.7,13) rotate(-24.1)"><ellipse rx="4.5" ry="3.7" fill="url(#dg)" stroke="#d3f7fa" stroke-width="0.8"/><ellipse cx="-1.3" cy="-1.7" rx="1.8" ry="0.6" fill="#defafc" opacity="0.8"/></g>
<g transform="translate(72.4,30) rotate(-0.4)"><ellipse rx="3" ry="2.8" fill="url(#dg)" stroke="#d3f7fa" stroke-width="0.8"/><ellipse cx="-0.9" cy="-1.2" rx="1.2" ry="0.5" fill="#defafc" opacity="0.8"/></g>
<g transform="translate(88.1,13.7) rotate(-12.9)"><ellipse rx="2" ry="1.4" fill="url(#dg)" stroke="#d3f7fa" stroke-width="0.8"/><ellipse cx="-0.6" cy="-0.6" rx="0.8" ry="0.5" fill="#defafc" opacity="0.8"/></g>
<g transform="translate(98.8,138.3) rotate(9.4)"><ellipse rx="5.5" ry="3.5" fill="url(#dg)" stroke="#d3f7fa" stroke-width="0.8"/><ellipse cx="-1.6" cy="-1.6" rx="2.2" ry="0.5" fill="#defafc" opacity="0.8"/></g>
<g transform="translate(55.3,107.1) rotate(-0.4)"><ellipse rx="3" ry="2.3" fill="url(#dg)" stroke="#d3f7fa" stroke-width="0.8"/><ellipse cx="-0.9" cy="-1.1" rx="1.2" ry="0.5" fill="#defafc" opacity="0.8"/></g>
<g transform="translate(35,116.8) rotate(13.4)"><ellipse rx="2.5" ry="1.6" fill="url(#dg)" stroke="#d3f7fa" stroke-width="0.8"/><ellipse cx="-0.8" cy="-0.7" rx="1" ry="0.5" fill="#defafc" opacity="0.8"/></g>
<g transform="translate(79.9,1.2) rotate(3.5)"><ellipse rx="2.5" ry="2.4" fill="url(#dg)" stroke="#d3f7fa" stroke-width="0.8"/><ellipse cx="-0.8" cy="-1.1" rx="1" ry="0.5" fill="#defafc" opacity="0.8"/></g>
<g transform="translate(79.9,151.2) rotate(3.5)"><ellipse rx="2.5" ry="2.4" fill="url(#dg)" stroke="#d3f7fa" stroke-width="0.8"/><ellipse cx="-0.8" cy="-1.1" rx="1" ry="0.5" fill="#defafc" opacity="0.8"/></g>
<g transform="translate(94.1,14.6) rotate(20.1)"><ellipse rx="3" ry="2.6" fill="url(#dg)" stroke="#d3f7fa" stroke-width="0.8"/><ellipse cx="-0.9" cy="-1.2" rx="1.2" ry="0.5" fill="#defafc" opacity="0.8"/></g>
<g transform="translate(146.5,69.3) rotate(-2.7)"><ellipse rx="2.5" ry="1.9" fill="url(#dg)" stroke="#d3f7fa" stroke-width="0.8"/><ellipse cx="-0.8" cy="-0.9" rx="1" ry="0.5" fill="#defafc" opacity="0.8"/></g>
<g transform="translate(71.6,129.1) rotate(6.5)"><ellipse rx="2.5" ry="1.5" fill="url(#dg)" stroke="#d3f7fa" stroke-width="0.8"/><ellipse cx="-0.8" cy="-0.7" rx="1" ry="0.5" fill="#defafc" opacity="0.8"/></g>
<g transform="translate(7.6,4.3) rotate(5.3)"><ellipse rx="4" ry="3" fill="url(#dg)" stroke="#d3f7fa" stroke-width="0.8"/><ellipse cx="-1.2" cy="-1.4" rx="1.6" ry="0.5" fill="#defafc" opacity="0.8"/></g>
<g transform="translate(134.7,24.4) rotate(-14)"><ellipse rx="6" ry="4.8" fill="url(#dg)" stroke="#d3f7fa" stroke-width="0.8"/><ellipse cx="-1.8" cy="-2.2" rx="2.4" ry="0.7" fill="#defafc" opacity="0.8"/></g>
<g transform="translate(33.1,32.4) rotate(18)"><ellipse rx="2.5" ry="2" fill="url(#dg)" stroke="#d3f7fa" stroke-width="0.8"/><ellipse cx="-0.8" cy="-0.9" rx="1" ry="0.5" fill="#defafc" opacity="0.8"/></g>
<g transform="translate(86.7,19) rotate(-6.2)"><ellipse rx="3" ry="2.2" fill="url(#dg)" stroke="#d3f7fa" stroke-width="0.8"/><ellipse cx="-0.9" cy="-1" rx="1.2" ry="0.5" fill="#defafc" opacity="0.8"/></g>
<g transform="translate(47.3,49.8) rotate(-3.4)"><ellipse rx="2.5" ry="2.2" fill="url(#dg)" stroke="#d3f7fa" stroke-width="0.8"/><ellipse cx="-0.8" cy="-1" rx="1" ry="0.5" fill="#defafc" opacity="0.8"/></g>
<g transform="translate(104.8,55.3) rotate(12.3)"><ellipse rx="2" ry="1.9" fill="url(#dg)" stroke="#d3f7fa" stroke-width="0.8"/><ellipse cx="-0.6" cy="-0.8" rx="0.8" ry="0.5" fill="#defafc" opacity="0.8"/></g>
<g transform="translate(82,66.8) rotate(-18.9)"><ellipse rx="2" ry="1.3" fill="url(#dg)" stroke="#d3f7fa" stroke-width="0.8"/><ellipse cx="-0.6" cy="-0.6" rx="0.8" ry="0.5" fill="#defafc" opacity="0.8"/></g>
<g transform="translate(40.1,3.5) rotate(-2.6)"><ellipse rx="2.5" ry="1.7" fill="url(#dg)" stroke="#d3f7fa" stroke-width="0.8"/><ellipse cx="-0.8" cy="-0.8" rx="1" ry="0.5" fill="#defafc" opacity="0.8"/></g>
<g transform="translate(120.2,34) rotate(-12.7)"><ellipse rx="2" ry="1.2" fill="url(#dg)" stroke="#d3f7fa" stroke-width="0.8"/><ellipse cx="-0.6" cy="-0.6" rx="0.8" ry="0.5" fill="#defafc" opacity="0.8"/></g>
<g transform="translate(34.4,5.8) rotate(14.4)"><ellipse rx="2" ry="1.4" fill="url(#dg)" stroke="#d3f7fa" stroke-width="0.8"/><ellipse cx="-0.6" cy="-0.7" rx="0.8" ry="0.5" fill="#defafc" opacity="0.8"/></g>
<g transform="translate(30.7,9.4) rotate(9.7)"><ellipse rx="3.5" ry="2.3" fill="url(#dg)" stroke="#d3f7fa" stroke-width="0.8"/><ellipse cx="-1.1" cy="-1" rx="1.4" ry="0.5" fill="#defafc" opacity="0.8"/></g>
<g transform="translate(65.8,88.5) rotate(22.5)"><ellipse rx="3" ry="2.1" fill="url(#dg)" stroke="#d3f7fa" stroke-width="0.8"/><ellipse cx="-0.9" cy="-0.9" rx="1.2" ry="0.5" fill="#defafc" opacity="0.8"/></g>
<g transform="translate(70.8,35.7) rotate(-19.3)"><ellipse rx="3.5" ry="2.2" fill="url(#dg)" stroke="#d3f7fa" stroke-width="0.8"/><ellipse cx="-1.1" cy="-1" rx="1.4" ry="0.5" fill="#defafc" opacity="0.8"/></g>
<g transform="translate(0.9,71.8) rotate(9.7)"><ellipse rx="2" ry="1.7" fill="url(#dg)" stroke="#d3f7fa" stroke-width="0.8"/><ellipse cx="-0.6" cy="-0.8" rx="0.8" ry="0.5" fill="#defafc" opacity="0.8"/></g>
<g transform="translate(150.9,71.8) rotate(9.7)"><ellipse rx="2" ry="1.7" fill="url(#dg)" stroke="#d3f7fa" stroke-width="0.8"/><ellipse cx="-0.6" cy="-0.8" rx="0.8" ry="0.5" fill="#defafc" opacity="0.8"/></g>
<g transform="translate(29.5,48.4) rotate(4.1)"><ellipse rx="3" ry="2.8" fill="url(#dg)" stroke="#d3f7fa" stroke-width="0.8"/><ellipse cx="-0.9" cy="-1.3" rx="1.2" ry="0.5" fill="#defafc" opacity="0.8"/></g>
<g transform="translate(19.6,86.7) rotate(-18.8)"><ellipse rx="2" ry="1.4" fill="url(#dg)" stroke="#d3f7fa" stroke-width="0.8"/><ellipse cx="-0.6" cy="-0.6" rx="0.8" ry="0.5" fill="#defafc" opacity="0.8"/></g>
<g transform="translate(16,101) rotate(12.3)"><ellipse rx="4" ry="2.8" fill="url(#dg)" stroke="#d3f7fa" stroke-width="0.8"/><ellipse cx="-1.2" cy="-1.3" rx="1.6" ry="0.5" fill="#defafc" opacity="0.8"/></g>
<g transform="translate(116.9,122.7) rotate(19.2)"><ellipse rx="3.5" ry="2.5" fill="url(#dg)" stroke="#d3f7fa" stroke-width="0.8"/><ellipse cx="-1.1" cy="-1.1" rx="1.4" ry="0.5" fill="#defafc" opacity="0.8"/></g>
<g transform="translate(31,110.1) rotate(-13.6)"><ellipse rx="5.5" ry="3.5" fill="url(#dg)" stroke="#d3f7fa" stroke-width="0.8"/><ellipse cx="-1.6" cy="-1.6" rx="2.2" ry="0.5" fill="#defafc" opacity="0.8"/></g>
<g transform="translate(123.7,36.5) rotate(-15.6)"><ellipse rx="3" ry="2.1" fill="url(#dg)" stroke="#d3f7fa" stroke-width="0.8"/><ellipse cx="-0.9" cy="-0.9" rx="1.2" ry="0.5" fill="#defafc" opacity="0.8"/></g>
<g transform="translate(61.6,42.7) rotate(9.4)"><ellipse rx="5.5" ry="3.8" fill="url(#dg)" stroke="#d3f7fa" stroke-width="0.8"/><ellipse cx="-1.6" cy="-1.7" rx="2.2" ry="0.6" fill="#defafc" opacity="0.8"/></g>
<g transform="translate(77.1,86.7) rotate(11)"><ellipse rx="2.5" ry="1.7" fill="url(#dg)" stroke="#d3f7fa" stroke-width="0.8"/><ellipse cx="-0.8" cy="-0.8" rx="1" ry="0.5" fill="#defafc" opacity="0.8"/></g>
<g transform="translate(22.1,52.6) rotate(12.2)"><ellipse rx="2.5" ry="2.1" fill="url(#dg)" stroke="#d3f7fa" stroke-width="0.8"/><ellipse cx="-0.8" cy="-0.9" rx="1" ry="0.5" fill="#defafc" opacity="0.8"/></g>
<g transform="translate(93.1,145) rotate(-4.7)"><ellipse rx="4" ry="3" fill="url(#dg)" stroke="#d3f7fa" stroke-width="0.8"/><ellipse cx="-1.2" cy="-1.3" rx="1.6" ry="0.5" fill="#defafc" opacity="0.8"/></g>
<g transform="translate(135.4,58) rotate(-12.3)"><ellipse rx="3" ry="2.3" fill="url(#dg)" stroke="#d3f7fa" stroke-width="0.8"/><ellipse cx="-0.9" cy="-1" rx="1.2" ry="0.5" fill="#defafc" opacity="0.8"/></g>
<g transform="translate(109.7,80.3) rotate(-17.7)"><ellipse rx="2.5" ry="1.7" fill="url(#dg)" stroke="#d3f7fa" stroke-width="0.8"/><ellipse cx="-0.8" cy="-0.8" rx="1" ry="0.5" fill="#defafc" opacity="0.8"/></g>
<g transform="translate(114.5,100.3) rotate(3.7)"><ellipse rx="4" ry="3.6" fill="url(#dg)" stroke="#d3f7fa" stroke-width="0.8"/><ellipse cx="-1.2" cy="-1.6" rx="1.6" ry="0.5" fill="#defafc" opacity="0.8"/></g>
<g transform="translate(141.6,14.6) rotate(4.4)"><ellipse rx="3" ry="2.5" fill="url(#dg)" stroke="#d3f7fa" stroke-width="0.8"/><ellipse cx="-0.9" cy="-1.1" rx="1.2" ry="0.5" fill="#defafc" opacity="0.8"/></g>
<g transform="translate(15.3,1.9) rotate(19.6)"><ellipse rx="2" ry="1.5" fill="url(#dg)" stroke="#d3f7fa" stroke-width="0.8"/><ellipse cx="-0.6" cy="-0.7" rx="0.8" ry="0.5" fill="#defafc" opacity="0.8"/></g>
<g transform="translate(15.3,151.9) rotate(19.6)"><ellipse rx="2" ry="1.5" fill="url(#dg)" stroke="#d3f7fa" stroke-width="0.8"/><ellipse cx="-0.6" cy="-0.7" rx="0.8" ry="0.5" fill="#defafc" opacity="0.8"/></g>
<g transform="translate(142,61.8) rotate(-22.9)"><ellipse rx="2" ry="1.3" fill="url(#dg)" stroke="#d3f7fa" stroke-width="0.8"/><ellipse cx="-0.6" cy="-0.6" rx="0.8" ry="0.5" fill="#defafc" opacity="0.8"/></g>
<g transform="translate(7.4,80.7) rotate(-14.1)"><ellipse rx="4" ry="2.7" fill="url(#dg)" stroke="#d3f7fa" stroke-width="0.8"/><ellipse cx="-1.2" cy="-1.2" rx="1.6" ry="0.5" fill="#defafc" opacity="0.8"/></g>
<g transform="translate(71.1,93.8) rotate(-4.5)"><ellipse rx="3" ry="2.3" fill="url(#dg)" stroke="#d3f7fa" stroke-width="0.8"/><ellipse cx="-0.9" cy="-1" rx="1.2" ry="0.5" fill="#defafc" opacity="0.8"/></g>
<g transform="translate(101.2,44.2) rotate(18.6)"><ellipse rx="4.5" ry="2.9" fill="url(#dg)" stroke="#d3f7fa" stroke-width="0.8"/><ellipse cx="-1.3" cy="-1.3" rx="1.8" ry="0.5" fill="#defafc" opacity="0.8"/></g>
<g transform="translate(25.9,35.5) rotate(-19.6)"><ellipse rx="2.5" ry="1.6" fill="url(#dg)" stroke="#d3f7fa" stroke-width="0.8"/><ellipse cx="-0.8" cy="-0.7" rx="1" ry="0.5" fill="#defafc" opacity="0.8"/></g>
<g transform="translate(57.1,2.4) rotate(-6.5)"><ellipse rx="4" ry="2.7" fill="url(#dg)" stroke="#d3f7fa" stroke-width="0.8"/><ellipse cx="-1.2" cy="-1.2" rx="1.6" ry="0.5" fill="#defafc" opacity="0.8"/></g>
<g transform="translate(57.1,152.4) rotate(-6.5)"><ellipse rx="4" ry="2.7" fill="url(#dg)" stroke="#d3f7fa" stroke-width="0.8"/><ellipse cx="-1.2" cy="-1.2" rx="1.6" ry="0.5" fill="#defafc" opacity="0.8"/></g>
<g transform="translate(77.1,39.6) rotate(23.5)"><ellipse rx="3.5" ry="2.6" fill="url(#dg)" stroke="#d3f7fa" stroke-width="0.8"/><ellipse cx="-1.1" cy="-1.2" rx="1.4" ry="0.5" fill="#defafc" opacity="0.8"/></g>
<g transform="translate(143,48.8) rotate(22.3)"><ellipse rx="2.5" ry="1.6" fill="url(#dg)" stroke="#d3f7fa" stroke-width="0.8"/><ellipse cx="-0.8" cy="-0.7" rx="1" ry="0.5" fill="#defafc" opacity="0.8"/></g>
<g transform="translate(62,82) rotate(-17.3)"><ellipse rx="3" ry="1.9" fill="url(#dg)" stroke="#d3f7fa" stroke-width="0.8"/><ellipse cx="-0.9" cy="-0.9" rx="1.2" ry="0.5" fill="#defafc" opacity="0.8"/></g>
<g transform="translate(107.7,125.8) rotate(-19.7)"><ellipse rx="2.5" ry="2" fill="url(#dg)" stroke="#d3f7fa" stroke-width="0.8"/><ellipse cx="-0.8" cy="-0.9" rx="1" ry="0.5" fill="#defafc" opacity="0.8"/></g>
<g transform="translate(38.6,120.6) rotate(10)"><ellipse rx="3" ry="2" fill="url(#dg)" stroke="#d3f7fa" stroke-width="0.8"/><ellipse cx="-0.9" cy="-0.9" rx="1.2" ry="0.5" fill="#defafc" opacity="0.8"/></g>
<g transform="translate(61.3,23.3) rotate(12.6)"><ellipse rx="3.5" ry="2.5" fill="url(#dg)" stroke="#d3f7fa" stroke-width="0.8"/><ellipse cx="-1.1" cy="-1.1" rx="1.4" ry="0.5" fill="#defafc" opacity="0.8"/></g>
<g transform="translate(110.7,15.1) rotate(-18.3)"><ellipse rx="2" ry="1.3" fill="url(#dg)" stroke="#d3f7fa" stroke-width="0.8"/><ellipse cx="-0.6" cy="-0.6" rx="0.8" ry="0.5" fill="#defafc" opacity="0.8"/></g>
<g transform="translate(9.5,85.9) rotate(4.6)"><ellipse rx="2" ry="1.5" fill="url(#dg)" stroke="#d3f7fa" stroke-width="0.8"/><ellipse cx="-0.6" cy="-0.7" rx="0.8" ry="0.5" fill="#defafc" opacity="0.8"/></g>
<g transform="translate(82,13.7) rotate(0.3)"><ellipse rx="2" ry="1.2" fill="url(#dg)" stroke="#d3f7fa" stroke-width="0.8"/><ellipse cx="-0.6" cy="-0.5" rx="0.8" ry="0.5" fill="#defafc" opacity="0.8"/></g>
<g transform="translate(43.7,94.8) rotate(9.4)"><ellipse rx="2.5" ry="1.8" fill="url(#dg)" stroke="#d3f7fa" stroke-width="0.8"/><ellipse cx="-0.8" cy="-0.8" rx="1" ry="0.5" fill="#defafc" opacity="0.8"/></g>
<g transform="translate(105.3,139.4) rotate(-8.7)"><ellipse rx="2" ry="1.3" fill="url(#dg)" stroke="#d3f7fa" stroke-width="0.8"/><ellipse cx="-0.6" cy="-0.6" rx="0.8" ry="0.5" fill="#defafc" opacity="0.8"/></g>
<g transform="translate(29.4,125.8) rotate(-13.4)"><ellipse rx="2" ry="1.7" fill="url(#dg)" stroke="#d3f7fa" stroke-width="0.8"/><ellipse cx="-0.6" cy="-0.7" rx="0.8" ry="0.5" fill="#defafc" opacity="0.8"/></g>
<g transform="translate(130.8,62.8) rotate(-22.2)"><ellipse rx="2" ry="1.7" fill="url(#dg)" stroke="#d3f7fa" stroke-width="0.8"/><ellipse cx="-0.6" cy="-0.8" rx="0.8" ry="0.5" fill="#defafc" opacity="0.8"/></g>
<g transform="translate(100.3,17.7) rotate(9.6)"><ellipse rx="4.5" ry="3.3" fill="url(#dg)" stroke="#d3f7fa" stroke-width="0.8"/><ellipse cx="-1.3" cy="-1.5" rx="1.8" ry="0.5" fill="#defafc" opacity="0.8"/></g>
<g transform="translate(105.8,14.3) rotate(-2.1)"><ellipse rx="2" ry="1.4" fill="url(#dg)" stroke="#d3f7fa" stroke-width="0.8"/><ellipse cx="-0.6" cy="-0.6" rx="0.8" ry="0.5" fill="#defafc" opacity="0.8"/></g>
<g transform="translate(32.9,-3.8) rotate(-23.9)"><ellipse rx="4" ry="3.4" fill="url(#dg)" stroke="#d3f7fa" stroke-width="0.8"/><ellipse cx="-1.2" cy="-1.5" rx="1.6" ry="0.5" fill="#defafc" opacity="0.8"/></g>
<g transform="translate(32.9,146.2) rotate(-23.9)"><ellipse rx="4" ry="3.4" fill="url(#dg)" stroke="#d3f7fa" stroke-width="0.8"/><ellipse cx="-1.2" cy="-1.5" rx="1.6" ry="0.5" fill="#defafc" opacity="0.8"/></g>
<g transform="translate(62.1,5.8) rotate(-22.5)"><ellipse rx="3" ry="1.9" fill="url(#dg)" stroke="#d3f7fa" stroke-width="0.8"/><ellipse cx="-0.9" cy="-0.9" rx="1.2" ry="0.5" fill="#defafc" opacity="0.8"/></g>
<g transform="translate(20.6,3) rotate(16.5)"><ellipse rx="3" ry="2.1" fill="url(#dg)" stroke="#d3f7fa" stroke-width="0.8"/><ellipse cx="-0.9" cy="-0.9" rx="1.2" ry="0.5" fill="#defafc" opacity="0.8"/></g>
<g transform="translate(20.6,153) rotate(16.5)"><ellipse rx="3" ry="2.1" fill="url(#dg)" stroke="#d3f7fa" stroke-width="0.8"/><ellipse cx="-0.9" cy="-0.9" rx="1.2" ry="0.5" fill="#defafc" opacity="0.8"/></g>
<g transform="translate(143.7,33.4) rotate(-14.6)"><ellipse rx="2" ry="1.2" fill="url(#dg)" stroke="#d3f7fa" stroke-width="0.8"/><ellipse cx="-0.6" cy="-0.6" rx="0.8" ry="0.5" fill="#defafc" opacity="0.8"/></g>
<g transform="translate(115,20.3) rotate(-11.4)"><ellipse rx="4.5" ry="3.5" fill="url(#dg)" stroke="#d3f7fa" stroke-width="0.8"/><ellipse cx="-1.3" cy="-1.6" rx="1.8" ry="0.5" fill="#defafc" opacity="0.8"/></g>
<g transform="translate(100.3,96.1) rotate(-2.2)"><ellipse rx="2.5" ry="1.6" fill="url(#dg)" stroke="#d3f7fa" stroke-width="0.8"/><ellipse cx="-0.8" cy="-0.7" rx="1" ry="0.5" fill="#defafc" opacity="0.8"/></g>
<g transform="translate(62.1,105.6) rotate(-12.8)"><ellipse rx="2.5" ry="1.9" fill="url(#dg)" stroke="#d3f7fa" stroke-width="0.8"/><ellipse cx="-0.8" cy="-0.9" rx="1" ry="0.5" fill="#defafc" opacity="0.8"/></g>
<g transform="translate(78,141.2) rotate(6.9)"><ellipse rx="2" ry="1.2" fill="url(#dg)" stroke="#d3f7fa" stroke-width="0.8"/><ellipse cx="-0.6" cy="-0.6" rx="0.8" ry="0.5" fill="#defafc" opacity="0.8"/></g>
<g transform="translate(21.8,145.6) rotate(21.6)"><ellipse rx="3" ry="2.2" fill="url(#dg)" stroke="#d3f7fa" stroke-width="0.8"/><ellipse cx="-0.9" cy="-1" rx="1.2" ry="0.5" fill="#defafc" opacity="0.8"/></g>
<g transform="translate(119.5,30.6) rotate(7.5)"><ellipse rx="2" ry="1.4" fill="url(#dg)" stroke="#d3f7fa" stroke-width="0.8"/><ellipse cx="-0.6" cy="-0.6" rx="0.8" ry="0.5" fill="#defafc" opacity="0.8"/></g>
<g transform="translate(32.9,18.1) rotate(-6.3)"><ellipse rx="4" ry="2.9" fill="url(#dg)" stroke="#d3f7fa" stroke-width="0.8"/><ellipse cx="-1.2" cy="-1.3" rx="1.6" ry="0.5" fill="#defafc" opacity="0.8"/></g>
<g transform="translate(86.6,65.5) rotate(-21.2)"><ellipse rx="3.5" ry="2.6" fill="url(#dg)" stroke="#d3f7fa" stroke-width="0.8"/><ellipse cx="-1.1" cy="-1.2" rx="1.4" ry="0.5" fill="#defafc" opacity="0.8"/></g>
<g transform="translate(55.7,22.4) rotate(9.7)"><ellipse rx="2.5" ry="1.9" fill="url(#dg)" stroke="#d3f7fa" stroke-width="0.8"/><ellipse cx="-0.8" cy="-0.9" rx="1" ry="0.5" fill="#defafc" opacity="0.8"/></g>
<g transform="translate(4.6,97.8) rotate(17.7)"><ellipse rx="2" ry="1.5" fill="url(#dg)" stroke="#d3f7fa" stroke-width="0.8"/><ellipse cx="-0.6" cy="-0.7" rx="0.8" ry="0.5" fill="#defafc" opacity="0.8"/></g>
<g transform="translate(112.6,110.4) rotate(-14.1)"><ellipse rx="2.5" ry="1.7" fill="url(#dg)" stroke="#d3f7fa" stroke-width="0.8"/><ellipse cx="-0.8" cy="-0.8" rx="1" ry="0.5" fill="#defafc" opacity="0.8"/></g>
<g transform="translate(42.3,73.2) rotate(10.3)"><ellipse rx="5.5" ry="3.6" fill="url(#dg)" stroke="#d3f7fa" stroke-width="0.8"/><ellipse cx="-1.6" cy="-1.6" rx="2.2" ry="0.5" fill="#defafc" opacity="0.8"/></g>
<g transform="translate(23.6,41.6) rotate(-1.8)"><ellipse rx="2.5" ry="2.2" fill="url(#dg)" stroke="#d3f7fa" stroke-width="0.8"/><ellipse cx="-0.8" cy="-1" rx="1" ry="0.5" fill="#defafc" opacity="0.8"/></g>
<g transform="translate(22.6,58.8) rotate(24.2)"><ellipse rx="2.5" ry="1.6" fill="url(#dg)" stroke="#d3f7fa" stroke-width="0.8"/><ellipse cx="-0.8" cy="-0.7" rx="1" ry="0.5" fill="#defafc" opacity="0.8"/></g>
<g transform="translate(146.8,142.5) rotate(-19.3)"><ellipse rx="2" ry="1.8" fill="url(#dg)" stroke="#d3f7fa" stroke-width="0.8"/><ellipse cx="-0.6" cy="-0.8" rx="0.8" ry="0.5" fill="#defafc" opacity="0.8"/></g>
<g transform="translate(48.9,77.6) rotate(4.3)"><ellipse rx="3" ry="2.4" fill="url(#dg)" stroke="#d3f7fa" stroke-width="0.8"/><ellipse cx="-0.9" cy="-1.1" rx="1.2" ry="0.5" fill="#defafc" opacity="0.8"/></g>
<g transform="translate(127.9,129.2) rotate(14.7)"><ellipse rx="3" ry="2" fill="url(#dg)" stroke="#d3f7fa" stroke-width="0.8"/><ellipse cx="-0.9" cy="-0.9" rx="1.2" ry="0.5" fill="#defafc" opacity="0.8"/></g>
<g transform="translate(77.5,66.1) rotate(-4.2)"><ellipse rx="2" ry="1.8" fill="url(#dg)" stroke="#d3f7fa" stroke-width="0.8"/><ellipse cx="-0.6" cy="-0.8" rx="0.8" ry="0.5" fill="#defafc" opacity="0.8"/></g>
<g transform="translate(122.8,145.8) rotate(2.7)"><ellipse rx="3" ry="2" fill="url(#dg)" stroke="#d3f7fa" stroke-width="0.8"/><ellipse cx="-0.9" cy="-0.9" rx="1.2" ry="0.5" fill="#defafc" opacity="0.8"/></g>
<g transform="translate(0.3,1.1) rotate(21.3)"><ellipse rx="2" ry="1.5" fill="url(#dg)" stroke="#d3f7fa" stroke-width="0.8"/><ellipse cx="-0.6" cy="-0.7" rx="0.8" ry="0.5" fill="#defafc" opacity="0.8"/></g>
<g transform="translate(0.3,151.1) rotate(21.3)"><ellipse rx="2" ry="1.5" fill="url(#dg)" stroke="#d3f7fa" stroke-width="0.8"/><ellipse cx="-0.6" cy="-0.7" rx="0.8" ry="0.5" fill="#defafc" opacity="0.8"/></g>
<g transform="translate(150.3,1.1) rotate(21.3)"><ellipse rx="2" ry="1.5" fill="url(#dg)" stroke="#d3f7fa" stroke-width="0.8"/><ellipse cx="-0.6" cy="-0.7" rx="0.8" ry="0.5" fill="#defafc" opacity="0.8"/></g>
<g transform="translate(150.3,151.1) rotate(21.3)"><ellipse rx="2" ry="1.5" fill="url(#dg)" stroke="#d3f7fa" stroke-width="0.8"/><ellipse cx="-0.6" cy="-0.7" rx="0.8" ry="0.5" fill="#defafc" opacity="0.8"/></g>
<g transform="translate(48.2,56.2) rotate(9.6)"><ellipse rx="4" ry="3" fill="url(#dg)" stroke="#d3f7fa" stroke-width="0.8"/><ellipse cx="-1.2" cy="-1.4" rx="1.6" ry="0.5" fill="#defafc" opacity="0.8"/></g>
<g transform="translate(132.7,83.5) rotate(-24.5)"><ellipse rx="2" ry="1.2" fill="url(#dg)" stroke="#d3f7fa" stroke-width="0.8"/><ellipse cx="-0.6" cy="-0.5" rx="0.8" ry="0.5" fill="#defafc" opacity="0.8"/></g>
<g transform="translate(86.4,109.2) rotate(14.2)"><ellipse rx="3" ry="2.6" fill="url(#dg)" stroke="#d3f7fa" stroke-width="0.8"/><ellipse cx="-0.9" cy="-1.2" rx="1.2" ry="0.5" fill="#defafc" opacity="0.8"/></g>
<g transform="translate(97.6,125.7) rotate(-23.2)"><ellipse rx="2.5" ry="1.8" fill="url(#dg)" stroke="#d3f7fa" stroke-width="0.8"/><ellipse cx="-0.8" cy="-0.8" rx="1" ry="0.5" fill="#defafc" opacity="0.8"/></g>
<g transform="translate(115.8,79) rotate(7.1)"><ellipse rx="2" ry="1.7" fill="url(#dg)" stroke="#d3f7fa" stroke-width="0.8"/><ellipse cx="-0.6" cy="-0.8" rx="0.8" ry="0.5" fill="#defafc" opacity="0.8"/></g>
<g transform="translate(20.3,91.2) rotate(2.2)"><ellipse rx="2" ry="1.9" fill="url(#dg)" stroke="#d3f7fa" stroke-width="0.8"/><ellipse cx="-0.6" cy="-0.9" rx="0.8" ry="0.5" fill="#defafc" opacity="0.8"/></g>
<g transform="translate(138.3,99.3) rotate(-4.9)"><ellipse rx="3.5" ry="2.3" fill="url(#dg)" stroke="#d3f7fa" stroke-width="0.8"/><ellipse cx="-1.1" cy="-1" rx="1.4" ry="0.5" fill="#defafc" opacity="0.8"/></g>
<g transform="translate(13.3,88.1) rotate(4.7)"><ellipse rx="2.5" ry="1.9" fill="url(#dg)" stroke="#d3f7fa" stroke-width="0.8"/><ellipse cx="-0.8" cy="-0.9" rx="1" ry="0.5" fill="#defafc" opacity="0.8"/></g>
<g transform="translate(-0.5,35.9) rotate(-23.2)"><ellipse rx="3" ry="2.6" fill="url(#dg)" stroke="#d3f7fa" stroke-width="0.8"/><ellipse cx="-0.9" cy="-1.2" rx="1.2" ry="0.5" fill="#defafc" opacity="0.8"/></g>
<g transform="translate(149.5,35.9) rotate(-23.2)"><ellipse rx="3" ry="2.6" fill="url(#dg)" stroke="#d3f7fa" stroke-width="0.8"/><ellipse cx="-0.9" cy="-1.2" rx="1.2" ry="0.5" fill="#defafc" opacity="0.8"/></g>
<g transform="translate(76,123.1) rotate(0.8)"><ellipse rx="2.5" ry="1.6" fill="url(#dg)" stroke="#d3f7fa" stroke-width="0.8"/><ellipse cx="-0.8" cy="-0.7" rx="1" ry="0.5" fill="#defafc" opacity="0.8"/></g>
<g transform="translate(116.8,106.4) rotate(12.9)"><ellipse rx="2.5" ry="2.1" fill="url(#dg)" stroke="#d3f7fa" stroke-width="0.8"/><ellipse cx="-0.8" cy="-1" rx="1" ry="0.5" fill="#defafc" opacity="0.8"/></g>
<g transform="translate(5.8,105.3) rotate(6)"><ellipse rx="4" ry="3" fill="url(#dg)" stroke="#d3f7fa" stroke-width="0.8"/><ellipse cx="-1.2" cy="-1.4" rx="1.6" ry="0.5" fill="#defafc" opacity="0.8"/></g>
<g transform="translate(99.1,52.8) rotate(-2.4)"><ellipse rx="3" ry="2.5" fill="url(#dg)" stroke="#d3f7fa" stroke-width="0.8"/><ellipse cx="-0.9" cy="-1.1" rx="1.2" ry="0.5" fill="#defafc" opacity="0.8"/></g>
<g transform="translate(65.1,9.7) rotate(19.9)"><ellipse rx="2.5" ry="1.7" fill="url(#dg)" stroke="#d3f7fa" stroke-width="0.8"/><ellipse cx="-0.8" cy="-0.7" rx="1" ry="0.5" fill="#defafc" opacity="0.8"/></g>
<g transform="translate(69.3,120.6) rotate(-9.7)"><ellipse rx="2" ry="1.4" fill="url(#dg)" stroke="#d3f7fa" stroke-width="0.8"/><ellipse cx="-0.6" cy="-0.6" rx="0.8" ry="0.5" fill="#defafc" opacity="0.8"/></g>
<g transform="translate(92.7,104.8) rotate(-20.5)"><ellipse rx="2" ry="1.8" fill="url(#dg)" stroke="#d3f7fa" stroke-width="0.8"/><ellipse cx="-0.6" cy="-0.8" rx="0.8" ry="0.5" fill="#defafc" opacity="0.8"/></g>
<g transform="translate(78.2,33.7) rotate(11.9)"><ellipse rx="2.5" ry="1.6" fill="url(#dg)" stroke="#d3f7fa" stroke-width="0.8"/><ellipse cx="-0.8" cy="-0.7" rx="1" ry="0.5" fill="#defafc" opacity="0.8"/></g>
<g transform="translate(131.2,52.3) rotate(-4.5)"><ellipse rx="4" ry="2.4" fill="url(#dg)" stroke="#d3f7fa" stroke-width="0.8"/><ellipse cx="-1.2" cy="-1.1" rx="1.6" ry="0.5" fill="#defafc" opacity="0.8"/></g>
<g transform="translate(140.4,147) rotate(-3.4)"><ellipse rx="2" ry="1.5" fill="url(#dg)" stroke="#d3f7fa" stroke-width="0.8"/><ellipse cx="-0.6" cy="-0.7" rx="0.8" ry="0.5" fill="#defafc" opacity="0.8"/></g>
<g transform="translate(72.9,88.6) rotate(24.4)"><ellipse rx="2" ry="1.5" fill="url(#dg)" stroke="#d3f7fa" stroke-width="0.8"/><ellipse cx="-0.6" cy="-0.7" rx="0.8" ry="0.5" fill="#defafc" opacity="0.8"/></g>
<g transform="translate(109.5,73.4) rotate(10.7)"><ellipse rx="3" ry="2" fill="url(#dg)" stroke="#d3f7fa" stroke-width="0.8"/><ellipse cx="-0.9" cy="-0.9" rx="1.2" ry="0.5" fill="#defafc" opacity="0.8"/></g>
<g transform="translate(56.4,81.3) rotate(-17.5)"><ellipse rx="2" ry="1.2" fill="url(#dg)" stroke="#d3f7fa" stroke-width="0.8"/><ellipse cx="-0.6" cy="-0.6" rx="0.8" ry="0.5" fill="#defafc" opacity="0.8"/></g>
<g transform="translate(104.5,133.9) rotate(-13)"><ellipse rx="2.5" ry="1.9" fill="url(#dg)" stroke="#d3f7fa" stroke-width="0.8"/><ellipse cx="-0.8" cy="-0.8" rx="1" ry="0.5" fill="#defafc" opacity="0.8"/></g>
<g transform="translate(54.1,117.8) rotate(7.6)"><ellipse rx="2" ry="1.8" fill="url(#dg)" stroke="#d3f7fa" stroke-width="0.8"/><ellipse cx="-0.6" cy="-0.8" rx="0.8" ry="0.5" fill="#defafc" opacity="0.8"/></g>
<g transform="translate(66.5,82.4) rotate(-18.5)"><ellipse rx="2.5" ry="1.6" fill="url(#dg)" stroke="#d3f7fa" stroke-width="0.8"/><ellipse cx="-0.8" cy="-0.7" rx="1" ry="0.5" fill="#defafc" opacity="0.8"/></g>
<g transform="translate(42.4,125.9) rotate(1)"><ellipse rx="2.5" ry="2" fill="url(#dg)" stroke="#d3f7fa" stroke-width="0.8"/><ellipse cx="-0.8" cy="-0.9" rx="1" ry="0.5" fill="#defafc" opacity="0.8"/></g>
<g transform="translate(104.6,115) rotate(-0.3)"><ellipse rx="2" ry="1.6" fill="url(#dg)" stroke="#d3f7fa" stroke-width="0.8"/><ellipse cx="-0.6" cy="-0.7" rx="0.8" ry="0.5" fill="#defafc" opacity="0.8"/></g>
<g transform="translate(137.4,125.4) rotate(-6)"><ellipse rx="2.5" ry="1.7" fill="url(#dg)" stroke="#d3f7fa" stroke-width="0.8"/><ellipse cx="-0.8" cy="-0.7" rx="1" ry="0.5" fill="#defafc" opacity="0.8"/></g>
<g transform="translate(125.5,59) rotate(-12.9)"><ellipse rx="2.5" ry="2" fill="url(#dg)" stroke="#d3f7fa" stroke-width="0.8"/><ellipse cx="-0.8" cy="-0.9" rx="1" ry="0.5" fill="#defafc" opacity="0.8"/></g>
<g transform="translate(84.8,118.3) rotate(-18.1)"><ellipse rx="2.5" ry="1.8" fill="url(#dg)" stroke="#d3f7fa" stroke-width="0.8"/><ellipse cx="-0.8" cy="-0.8" rx="1" ry="0.5" fill="#defafc" opacity="0.8"/></g>
<g transform="translate(132.2,132) rotate(-3)"><ellipse rx="2.5" ry="2.1" fill="url(#dg)" stroke="#d3f7fa" stroke-width="0.8"/><ellipse cx="-0.8" cy="-0.9" rx="1" ry="0.5" fill="#defafc" opacity="0.8"/></g>
<g transform="translate(140.2,117.8) rotate(-4.1)"><ellipse rx="2" ry="1.3" fill="url(#dg)" stroke="#d3f7fa" stroke-width="0.8"/><ellipse cx="-0.6" cy="-0.6" rx="0.8" ry="0.5" fill="#defafc" opacity="0.8"/></g>
<g transform="translate(2.5,76.4) rotate(15.3)"><ellipse rx="3" ry="2.2" fill="url(#dg)" stroke="#d3f7fa" stroke-width="0.8"/><ellipse cx="-0.9" cy="-1" rx="1.2" ry="0.5" fill="#defafc" opacity="0.8"/></g>
<g transform="translate(152.5,76.4) rotate(15.3)"><ellipse rx="3" ry="2.2" fill="url(#dg)" stroke="#d3f7fa" stroke-width="0.8"/><ellipse cx="-0.9" cy="-1" rx="1.2" ry="0.5" fill="#defafc" opacity="0.8"/></g>
<g transform="translate(32.3,120.8) rotate(6.5)"><ellipse rx="3.5" ry="2.2" fill="url(#dg)" stroke="#d3f7fa" stroke-width="0.8"/><ellipse cx="-1.1" cy="-1" rx="1.4" ry="0.5" fill="#defafc" opacity="0.8"/></g>
<g transform="translate(103.5,120.6) rotate(10.7)"><ellipse rx="4" ry="2.6" fill="url(#dg)" stroke="#d3f7fa" stroke-width="0.8"/><ellipse cx="-1.2" cy="-1.2" rx="1.6" ry="0.5" fill="#defafc" opacity="0.8"/></g>
<g transform="translate(117,27.6) rotate(20.6)"><ellipse rx="2.5" ry="1.7" fill="url(#dg)" stroke="#d3f7fa" stroke-width="0.8"/><ellipse cx="-0.8" cy="-0.8" rx="1" ry="0.5" fill="#defafc" opacity="0.8"/></g>
<g transform="translate(18,45.7) rotate(9.4)"><ellipse rx="2.5" ry="1.5" fill="url(#dg)" stroke="#d3f7fa" stroke-width="0.8"/><ellipse cx="-0.8" cy="-0.7" rx="1" ry="0.5" fill="#defafc" opacity="0.8"/></g>
<g transform="translate(27,29.3) rotate(-24.5)"><ellipse rx="2.5" ry="1.8" fill="url(#dg)" stroke="#d3f7fa" stroke-width="0.8"/><ellipse cx="-0.8" cy="-0.8" rx="1" ry="0.5" fill="#defafc" opacity="0.8"/></g>
<g transform="translate(69.5,42.2) rotate(19.4)"><ellipse rx="2.5" ry="2.3" fill="url(#dg)" stroke="#d3f7fa" stroke-width="0.8"/><ellipse cx="-0.8" cy="-1" rx="1" ry="0.5" fill="#defafc" opacity="0.8"/></g>
<g transform="translate(20.4,64.5) rotate(-3.2)"><ellipse rx="2" ry="1.6" fill="url(#dg)" stroke="#d3f7fa" stroke-width="0.8"/><ellipse cx="-0.6" cy="-0.7" rx="0.8" ry="0.5" fill="#defafc" opacity="0.8"/></g>
<g transform="translate(97.9,87.1) rotate(-2.2)"><ellipse rx="3" ry="1.8" fill="url(#dg)" stroke="#d3f7fa" stroke-width="0.8"/><ellipse cx="-0.9" cy="-0.8" rx="1.2" ry="0.5" fill="#defafc" opacity="0.8"/></g>
<g transform="translate(127.2,79) rotate(-18.5)"><ellipse rx="2.5" ry="1.7" fill="url(#dg)" stroke="#d3f7fa" stroke-width="0.8"/><ellipse cx="-0.8" cy="-0.8" rx="1" ry="0.5" fill="#defafc" opacity="0.8"/></g>
<g transform="translate(114.5,83) rotate(-13.3)"><ellipse rx="2" ry="1.6" fill="url(#dg)" stroke="#d3f7fa" stroke-width="0.8"/><ellipse cx="-0.6" cy="-0.7" rx="0.8" ry="0.5" fill="#defafc" opacity="0.8"/></g>
<g transform="translate(106,99) rotate(-3.7)"><ellipse rx="2.5" ry="1.7" fill="url(#dg)" stroke="#d3f7fa" stroke-width="0.8"/><ellipse cx="-0.8" cy="-0.8" rx="1" ry="0.5" fill="#defafc" opacity="0.8"/></g>
<g transform="translate(66.6,38.5) rotate(-2)"><ellipse rx="2" ry="1.5" fill="url(#dg)" stroke="#d3f7fa" stroke-width="0.8"/><ellipse cx="-0.6" cy="-0.7" rx="0.8" ry="0.5" fill="#defafc" opacity="0.8"/></g>
<g transform="translate(34.8,71) rotate(15.2)"><ellipse rx="2.5" ry="1.7" fill="url(#dg)" stroke="#d3f7fa" stroke-width="0.8"/><ellipse cx="-0.8" cy="-0.8" rx="1" ry="0.5" fill="#defafc" opacity="0.8"/></g>
<g transform="translate(120.3,61.5) rotate(-22.3)"><ellipse rx="3.5" ry="2.4" fill="url(#dg)" stroke="#d3f7fa" stroke-width="0.8"/><ellipse cx="-1.1" cy="-1.1" rx="1.4" ry="0.5" fill="#defafc" opacity="0.8"/></g>
<g transform="translate(76,47) rotate(2.8)"><ellipse rx="2.5" ry="1.7" fill="url(#dg)" stroke="#d3f7fa" stroke-width="0.8"/><ellipse cx="-0.8" cy="-0.7" rx="1" ry="0.5" fill="#defafc" opacity="0.8"/></g>
<g transform="translate(137.6,17.6) rotate(23.1)"><ellipse rx="2" ry="1.6" fill="url(#dg)" stroke="#d3f7fa" stroke-width="0.8"/><ellipse cx="-0.6" cy="-0.7" rx="0.8" ry="0.5" fill="#defafc" opacity="0.8"/></g>
<g transform="translate(137.9,62.7) rotate(-16)"><ellipse rx="2" ry="1.2" fill="url(#dg)" stroke="#d3f7fa" stroke-width="0.8"/><ellipse cx="-0.6" cy="-0.5" rx="0.8" ry="0.5" fill="#defafc" opacity="0.8"/></g>
<g transform="translate(49,90.2) rotate(21.6)"><ellipse rx="3" ry="2.2" fill="url(#dg)" stroke="#d3f7fa" stroke-width="0.8"/><ellipse cx="-0.9" cy="-1" rx="1.2" ry="0.5" fill="#defafc" opacity="0.8"/></g>
<g transform="translate(145.8,63.5) rotate(-21.2)"><ellipse rx="3" ry="2.1" fill="url(#dg)" stroke="#d3f7fa" stroke-width="0.8"/><ellipse cx="-0.9" cy="-1" rx="1.2" ry="0.5" fill="#defafc" opacity="0.8"/></g>
<g transform="translate(13.5,42.7) rotate(2.9)"><ellipse rx="2" ry="1.7" fill="url(#dg)" stroke="#d3f7fa" stroke-width="0.8"/><ellipse cx="-0.6" cy="-0.8" rx="0.8" ry="0.5" fill="#defafc" opacity="0.8"/></g>
<g transform="translate(83.8,82.8) rotate(16)"><ellipse rx="4.5" ry="2.9" fill="url(#dg)" stroke="#d3f7fa" stroke-width="0.8"/><ellipse cx="-1.3" cy="-1.3" rx="1.8" ry="0.5" fill="#defafc" opacity="0.8"/></g>
<g transform="translate(127.4,54.9) rotate(8.5)"><ellipse rx="2" ry="1.3" fill="url(#dg)" stroke="#d3f7fa" stroke-width="0.8"/><ellipse cx="-0.6" cy="-0.6" rx="0.8" ry="0.5" fill="#defafc" opacity="0.8"/></g>
<g transform="translate(127.8,66.2) rotate(18.3)"><ellipse rx="2" ry="1.5" fill="url(#dg)" stroke="#d3f7fa" stroke-width="0.8"/><ellipse cx="-0.6" cy="-0.7" rx="0.8" ry="0.5" fill="#defafc" opacity="0.8"/></g>
<g transform="translate(35.1,13) rotate(-24.6)"><ellipse rx="2" ry="1.6" fill="url(#dg)" stroke="#d3f7fa" stroke-width="0.8"/><ellipse cx="-0.6" cy="-0.7" rx="0.8" ry="0.5" fill="#defafc" opacity="0.8"/></g>
<g transform="translate(80,18) rotate(-14)"><ellipse rx="2" ry="1.2" fill="url(#dg)" stroke="#d3f7fa" stroke-width="0.8"/><ellipse cx="-0.6" cy="-0.6" rx="0.8" ry="0.5" fill="#defafc" opacity="0.8"/></g>
<g transform="translate(88.6,58.7) rotate(14.8)"><ellipse rx="2" ry="1.3" fill="url(#dg)" stroke="#d3f7fa" stroke-width="0.8"/><ellipse cx="-0.6" cy="-0.6" rx="0.8" ry="0.5" fill="#defafc" opacity="0.8"/></g>
<g transform="translate(8.9,130.2) rotate(9.3)"><ellipse rx="2" ry="1.8" fill="url(#dg)" stroke="#d3f7fa" stroke-width="0.8"/><ellipse cx="-0.6" cy="-0.8" rx="0.8" ry="0.5" fill="#defafc" opacity="0.8"/></g>
<g transform="translate(139.9,122.1) rotate(11.3)"><ellipse rx="2" ry="1.3" fill="url(#dg)" stroke="#d3f7fa" stroke-width="0.8"/><ellipse cx="-0.6" cy="-0.6" rx="0.8" ry="0.5" fill="#defafc" opacity="0.8"/></g>
<g transform="translate(57.4,102.3) rotate(6.5)"><ellipse rx="2" ry="1.6" fill="url(#dg)" stroke="#d3f7fa" stroke-width="0.8"/><ellipse cx="-0.6" cy="-0.7" rx="0.8" ry="0.5" fill="#defafc" opacity="0.8"/></g>
<g transform="translate(128.8,48.1) rotate(-14.8)"><ellipse rx="2" ry="1.5" fill="url(#dg)" stroke="#d3f7fa" stroke-width="0.8"/><ellipse cx="-0.6" cy="-0.7" rx="0.8" ry="0.5" fill="#defafc" opacity="0.8"/></g>
<g transform="translate(125.7,22.6) rotate(21.1)"><ellipse rx="3" ry="1.8" fill="url(#dg)" stroke="#d3f7fa" stroke-width="0.8"/><ellipse cx="-0.9" cy="-0.8" rx="1.2" ry="0.5" fill="#defafc" opacity="0.8"/></g>
<g transform="translate(137.5,49.3) rotate(1.2)"><ellipse rx="3" ry="2.4" fill="url(#dg)" stroke="#d3f7fa" stroke-width="0.8"/><ellipse cx="-0.9" cy="-1.1" rx="1.2" ry="0.5" fill="#defafc" opacity="0.8"/></g>
<g transform="translate(122.1,98.8) rotate(0.8)"><ellipse rx="2.5" ry="1.7" fill="url(#dg)" stroke="#d3f7fa" stroke-width="0.8"/><ellipse cx="-0.8" cy="-0.8" rx="1" ry="0.5" fill="#defafc" opacity="0.8"/></g>
<g transform="translate(38.1,21.6) rotate(-16.2)"><ellipse rx="2" ry="1.5" fill="url(#dg)" stroke="#d3f7fa" stroke-width="0.8"/><ellipse cx="-0.6" cy="-0.7" rx="0.8" ry="0.5" fill="#defafc" opacity="0.8"/></g>
<g transform="translate(6.4,29.9) rotate(14.5)"><ellipse rx="2" ry="1.3" fill="url(#dg)" stroke="#d3f7fa" stroke-width="0.8"/><ellipse cx="-0.6" cy="-0.6" rx="0.8" ry="0.5" fill="#defafc" opacity="0.8"/></g>
<g transform="translate(19.3,32.2) rotate(-16.8)"><ellipse rx="2" ry="1.3" fill="url(#dg)" stroke="#d3f7fa" stroke-width="0.8"/><ellipse cx="-0.6" cy="-0.6" rx="0.8" ry="0.5" fill="#defafc" opacity="0.8"/></g>
<g transform="translate(46.9,62.5) rotate(5.8)"><ellipse rx="3" ry="2.1" fill="url(#dg)" stroke="#d3f7fa" stroke-width="0.8"/><ellipse cx="-0.9" cy="-0.9" rx="1.2" ry="0.5" fill="#defafc" opacity="0.8"/></g>
<g transform="translate(57.8,85.8) rotate(-10.9)"><ellipse rx="2" ry="1.6" fill="url(#dg)" stroke="#d3f7fa" stroke-width="0.8"/><ellipse cx="-0.6" cy="-0.7" rx="0.8" ry="0.5" fill="#defafc" opacity="0.8"/></g>
<g transform="translate(107.1,40.5) rotate(-4.2)"><ellipse rx="3" ry="2.1" fill="url(#dg)" stroke="#d3f7fa" stroke-width="0.8"/><ellipse cx="-0.9" cy="-0.9" rx="1.2" ry="0.5" fill="#defafc" opacity="0.8"/></g>
<g transform="translate(6.3,72.9) rotate(-3.4)"><ellipse rx="2" ry="1.5" fill="url(#dg)" stroke="#d3f7fa" stroke-width="0.8"/><ellipse cx="-0.6" cy="-0.7" rx="0.8" ry="0.5" fill="#defafc" opacity="0.8"/></g>
<g transform="translate(27,144.2) rotate(18.5)"><ellipse rx="2" ry="1.4" fill="url(#dg)" stroke="#d3f7fa" stroke-width="0.8"/><ellipse cx="-0.6" cy="-0.6" rx="0.8" ry="0.5" fill="#defafc" opacity="0.8"/></g>
<g transform="translate(5.2,33.5) rotate(-8)"><ellipse rx="2.5" ry="1.5" fill="url(#dg)" stroke="#d3f7fa" stroke-width="0.8"/><ellipse cx="-0.8" cy="-0.7" rx="1" ry="0.5" fill="#defafc" opacity="0.8"/></g>
<g transform="translate(14.6,136.3) rotate(17.6)"><ellipse rx="2" ry="1.3" fill="url(#dg)" stroke="#d3f7fa" stroke-width="0.8"/><ellipse cx="-0.6" cy="-0.6" rx="0.8" ry="0.5" fill="#defafc" opacity="0.8"/></g>
<g transform="translate(70,132.5) rotate(-1.8)"><ellipse rx="2" ry="1.3" fill="url(#dg)" stroke="#d3f7fa" stroke-width="0.8"/><ellipse cx="-0.6" cy="-0.6" rx="0.8" ry="0.5" fill="#defafc" opacity="0.8"/></g>
<g transform="translate(95.8,8.8) rotate(7.6)"><ellipse rx="2" ry="1.2" fill="url(#dg)" stroke="#d3f7fa" stroke-width="0.8"/><ellipse cx="-0.6" cy="-0.5" rx="0.8" ry="0.5" fill="#defafc" opacity="0.8"/></g>
<g transform="translate(61.8,18.3) rotate(-6.3)"><ellipse rx="2" ry="1.3" fill="url(#dg)" stroke="#d3f7fa" stroke-width="0.8"/><ellipse cx="-0.6" cy="-0.6" rx="0.8" ry="0.5" fill="#defafc" opacity="0.8"/></g>
<g transform="translate(41.3,-1.4) rotate(-7.1)"><ellipse rx="3.5" ry="2.4" fill="url(#dg)" stroke="#d3f7fa" stroke-width="0.8"/><ellipse cx="-1.1" cy="-1.1" rx="1.4" ry="0.5" fill="#defafc" opacity="0.8"/></g>
<g transform="translate(41.3,148.6) rotate(-7.1)"><ellipse rx="3.5" ry="2.4" fill="url(#dg)" stroke="#d3f7fa" stroke-width="0.8"/><ellipse cx="-1.1" cy="-1.1" rx="1.4" ry="0.5" fill="#defafc" opacity="0.8"/></g>
<g transform="translate(90.4,22.2) rotate(-20)"><ellipse rx="2" ry="1.7" fill="url(#dg)" stroke="#d3f7fa" stroke-width="0.8"/><ellipse cx="-0.6" cy="-0.8" rx="0.8" ry="0.5" fill="#defafc" opacity="0.8"/></g>
<g transform="translate(142.1,141.6) rotate(-4.5)"><ellipse rx="2" ry="1.6" fill="url(#dg)" stroke="#d3f7fa" stroke-width="0.8"/><ellipse cx="-0.6" cy="-0.7" rx="0.8" ry="0.5" fill="#defafc" opacity="0.8"/></g>
<g transform="translate(145.2,9.8) rotate(20.6)"><ellipse rx="2" ry="1.7" fill="url(#dg)" stroke="#d3f7fa" stroke-width="0.8"/><ellipse cx="-0.6" cy="-0.8" rx="0.8" ry="0.5" fill="#defafc" opacity="0.8"/></g>
<g transform="translate(41.7,49.2) rotate(-24.7)"><ellipse rx="2.5" ry="2" fill="url(#dg)" stroke="#d3f7fa" stroke-width="0.8"/><ellipse cx="-0.8" cy="-0.9" rx="1" ry="0.5" fill="#defafc" opacity="0.8"/></g>
<g transform="translate(11,-0.8) rotate(-24.8)"><ellipse rx="3" ry="2" fill="url(#dg)" stroke="#d3f7fa" stroke-width="0.8"/><ellipse cx="-0.9" cy="-0.9" rx="1.2" ry="0.5" fill="#defafc" opacity="0.8"/></g>
<g transform="translate(11,149.2) rotate(-24.8)"><ellipse rx="3" ry="2" fill="url(#dg)" stroke="#d3f7fa" stroke-width="0.8"/><ellipse cx="-0.9" cy="-0.9" rx="1.2" ry="0.5" fill="#defafc" opacity="0.8"/></g>
<g transform="translate(92.9,57.7) rotate(10)"><ellipse rx="2.5" ry="1.9" fill="url(#dg)" stroke="#d3f7fa" stroke-width="0.8"/><ellipse cx="-0.8" cy="-0.9" rx="1" ry="0.5" fill="#defafc" opacity="0.8"/></g>
<g transform="translate(112.8,12.2) rotate(-1.1)"><ellipse rx="2" ry="1.4" fill="url(#dg)" stroke="#d3f7fa" stroke-width="0.8"/><ellipse cx="-0.6" cy="-0.6" rx="0.8" ry="0.5" fill="#defafc" opacity="0.8"/></g>
<g transform="translate(50.5,100.6) rotate(23.9)"><ellipse rx="2" ry="1.6" fill="url(#dg)" stroke="#d3f7fa" stroke-width="0.8"/><ellipse cx="-0.6" cy="-0.7" rx="0.8" ry="0.5" fill="#defafc" opacity="0.8"/></g>
<g transform="translate(52.6,6.5) rotate(19.5)"><ellipse rx="2" ry="1.6" fill="url(#dg)" stroke="#d3f7fa" stroke-width="0.8"/><ellipse cx="-0.6" cy="-0.7" rx="0.8" ry="0.5" fill="#defafc" opacity="0.8"/></g>
<g transform="translate(133.8,88.2) rotate(-19.6)"><ellipse rx="2" ry="1.6" fill="url(#dg)" stroke="#d3f7fa" stroke-width="0.8"/><ellipse cx="-0.6" cy="-0.7" rx="0.8" ry="0.5" fill="#defafc" opacity="0.8"/></g>
<g transform="translate(66.7,108.7) rotate(-9.5)"><ellipse rx="2" ry="1.3" fill="url(#dg)" stroke="#d3f7fa" stroke-width="0.8"/><ellipse cx="-0.6" cy="-0.6" rx="0.8" ry="0.5" fill="#defafc" opacity="0.8"/></g>
<g transform="translate(132.3,93.2) rotate(2.2)"><ellipse rx="2" ry="1.6" fill="url(#dg)" stroke="#d3f7fa" stroke-width="0.8"/><ellipse cx="-0.6" cy="-0.7" rx="0.8" ry="0.5" fill="#defafc" opacity="0.8"/></g>
<g transform="translate(14.8,144) rotate(2.3)"><ellipse rx="2" ry="1.2" fill="url(#dg)" stroke="#d3f7fa" stroke-width="0.8"/><ellipse cx="-0.6" cy="-0.6" rx="0.8" ry="0.5" fill="#defafc" opacity="0.8"/></g>
<g transform="translate(45.2,67.7) rotate(-22.7)"><ellipse rx="2.5" ry="1.8" fill="url(#dg)" stroke="#d3f7fa" stroke-width="0.8"/><ellipse cx="-0.8" cy="-0.8" rx="1" ry="0.5" fill="#defafc" opacity="0.8"/></g>
<g transform="translate(70.4,125.1) rotate(-18.8)"><ellipse rx="2" ry="1.4" fill="url(#dg)" stroke="#d3f7fa" stroke-width="0.8"/><ellipse cx="-0.6" cy="-0.6" rx="0.8" ry="0.5" fill="#defafc" opacity="0.8"/></g>
<g transform="translate(104,49.8) rotate(-22.2)"><ellipse rx="2" ry="1.9" fill="url(#dg)" stroke="#d3f7fa" stroke-width="0.8"/><ellipse cx="-0.6" cy="-0.8" rx="0.8" ry="0.5" fill="#defafc" opacity="0.8"/></g>
<g transform="translate(18.5,68.6) rotate(9.4)"><ellipse rx="2" ry="1.4" fill="url(#dg)" stroke="#d3f7fa" stroke-width="0.8"/><ellipse cx="-0.6" cy="-0.6" rx="0.8" ry="0.5" fill="#defafc" opacity="0.8"/></g>
<g transform="translate(48.6,124.5) rotate(5.1)"><ellipse rx="2" ry="1.4" fill="url(#dg)" stroke="#d3f7fa" stroke-width="0.8"/><ellipse cx="-0.6" cy="-0.6" rx="0.8" ry="0.5" fill="#defafc" opacity="0.8"/></g>
<g transform="translate(1.8,118.6) rotate(1.3)"><ellipse rx="3" ry="1.9" fill="url(#dg)" stroke="#d3f7fa" stroke-width="0.8"/><ellipse cx="-0.9" cy="-0.8" rx="1.2" ry="0.5" fill="#defafc" opacity="0.8"/></g>
<g transform="translate(151.8,118.6) rotate(1.3)"><ellipse rx="3" ry="1.9" fill="url(#dg)" stroke="#d3f7fa" stroke-width="0.8"/><ellipse cx="-0.9" cy="-0.8" rx="1.2" ry="0.5" fill="#defafc" opacity="0.8"/></g>
<g transform="translate(58.4,116.4) rotate(-2.8)"><ellipse rx="2" ry="1.2" fill="url(#dg)" stroke="#d3f7fa" stroke-width="0.8"/><ellipse cx="-0.6" cy="-0.6" rx="0.8" ry="0.5" fill="#defafc" opacity="0.8"/></g>
<g transform="translate(25.7,104.5) rotate(22.2)"><ellipse rx="2.5" ry="1.5" fill="url(#dg)" stroke="#d3f7fa" stroke-width="0.8"/><ellipse cx="-0.8" cy="-0.7" rx="1" ry="0.5" fill="#defafc" opacity="0.8"/></g>
<g transform="translate(78.7,145.3) rotate(4.4)"><ellipse rx="2" ry="1.3" fill="url(#dg)" stroke="#d3f7fa" stroke-width="0.8"/><ellipse cx="-0.6" cy="-0.6" rx="0.8" ry="0.5" fill="#defafc" opacity="0.8"/></g>
</pattern>
<g id="bush"><path d="M58,48 L52,55.5 L55.5,55.5 L63,49Z M24,50 L21,54.5 L34,54.5Z" fill="#7a4a14"/><path d="M0,33 A13.1,13.1 0 0 1 13,17 A20.3,20.3 0 0 1 45,6.5 A17.9,17.9 0 0 1 73,11.5 A12.9,12.9 0 0 1 85,28 A10.1,10.1 0 0 1 81,45 A15.4,15.4 0 0 1 61,50.5 A21.6,21.6 0 0 1 36,51.5 A20.1,20.1 0 0 1 12,49.5 A12.9,12.9 0 0 1 0,33 Z" fill="#72d31a" stroke="#56a515" stroke-width="1.6"/><path d="M14,22 Q40,12 74,18 Q80,26 76,32 Q44,26 8,34 Q6,26 14,22Z" fill="#7bd924" opacity="0.7"/><path d="M22,27 Q31,25 37,30 Q44,25 54,25" fill="none" stroke="#96e650" stroke-width="1.1"/><path d="M9,42 Q15,42 19,50 M33,42 Q37,45 37,52 M57,41 Q62,43 61,51 M72,36 Q77,39 78,45" fill="none" stroke="#5cb018" stroke-width="1.4"/></g>
</defs>

<!-- Florida Bay water -->
<path d="M0,0 H99 V262 H144 V505 H99 V768 H0 Z" fill="url(#water)"/>
<path d="M99,766.8 H1.2 V1.2 H99" fill="none" stroke="#5b95cf" stroke-width="2.4"/>
<path d="M143,262 V505" fill="none" stroke="#5b95cf" stroke-width="3"/>
<!-- Docks -->
<rect x="99" y="-2" width="46" height="263" fill="#e6e6e6" stroke="#b5b5b5" stroke-width="2"/>
<rect x="99" y="505.5" width="46" height="261.5" fill="#e6e6e6" stroke="#b5b5b5" stroke-width="2"/>

<text class="b" font-size="28" transform="translate(124.2,130.5) rotate(-90)" text-anchor="middle" dominant-baseline="central" textLength="63.5" lengthAdjust="spacingAndGlyphs">Dock</text>
<text class="b" font-size="28" transform="translate(124.7,635) rotate(-90)" text-anchor="middle" dominant-baseline="central" textLength="64" lengthAdjust="spacingAndGlyphs">Dock</text>
<text class="b" font-size="27" transform="translate(74.2,383) rotate(-90)" text-anchor="middle" dominant-baseline="central" textLength="139" lengthAdjust="spacingAndGlyphs">Florida Bay</text>

<!-- green palm -->
<g fill="none" stroke="#4fa657" stroke-linecap="round">
<path d="M192,54.5 L251.5,118.3" stroke-width="2.2"/>
<path d="M205,95 Q229,99 249.5,118" stroke-width="1.6"/>
<path d="M197.3,105.5 Q212,110 233,113.8 Q241,115.5 247,118" stroke-width="1.5"/>
</g>
<path d="M145.7,53.8 L152.5,47.9 L160.9,44.5 L164.3,42.8 L156.7,41.1 L151.6,39.9 L157.5,36.1 L165.1,33.5 L167.7,32.7 L163.4,28.5 L161.7,25.5 L166,24.6 L171.9,28.5 L177.8,32.7 L181.2,34.4 L182.9,28.5 L186.3,24.2 L190.5,23.8 L194.7,26.8 L192.2,32.7 L193,34.4 L203.2,31 L209.9,30.6 L218.4,33.5 L224.3,36.5 L215.8,36.1 L208.2,36.9 L204.8,37.7 L210.8,44.5 L214.1,49.6 L216.7,56.3 L215,59.7 L209.9,61.4 L205.7,67.3 L204,71 L201,66.5 L197.5,59.5 L194.2,53.5 L192.2,57.5 L192.3,65 L194.5,71.2 L205.5,72.8 L212.9,76 L200.1,78.1 L201.2,80.3 L206.5,84.5 L208.1,88.8 L205.5,95.2 L203.3,100.5 L200.1,104.8 L198,109 L195.9,117.6 L193.7,106.9 L190.5,114.4 L188.4,105.9 L184.1,110.1 L183.1,102.7 L179.9,105.9 L177.7,98.4 L172.9,102.7 L173.5,92 L169.2,98.4 L170.3,85.6 L161.7,86.7 L171.3,78.7 L167.1,76 L166.8,67.3 L166,61.4 L160.9,67.3 L155.8,71.6 L156.7,67.3 L160.1,60.6 L164.3,53.8 L169.4,47.9 L165.1,48.7 L155.8,52.1Z" fill="#8ee88e" stroke="#8ee88e" stroke-width="2.5" stroke-linejoin="round" filter="url(#glow)" opacity="0.8"/>
<path d="M145.7,53.8 L152.5,47.9 L160.9,44.5 L164.3,42.8 L156.7,41.1 L151.6,39.9 L157.5,36.1 L165.1,33.5 L167.7,32.7 L163.4,28.5 L161.7,25.5 L166,24.6 L171.9,28.5 L177.8,32.7 L181.2,34.4 L182.9,28.5 L186.3,24.2 L190.5,23.8 L194.7,26.8 L192.2,32.7 L193,34.4 L203.2,31 L209.9,30.6 L218.4,33.5 L224.3,36.5 L215.8,36.1 L208.2,36.9 L204.8,37.7 L210.8,44.5 L214.1,49.6 L216.7,56.3 L215,59.7 L209.9,61.4 L205.7,67.3 L204,71 L201,66.5 L197.5,59.5 L194.2,53.5 L192.2,57.5 L192.3,65 L194.5,71.2 L205.5,72.8 L212.9,76 L200.1,78.1 L201.2,80.3 L206.5,84.5 L208.1,88.8 L205.5,95.2 L203.3,100.5 L200.1,104.8 L198,109 L195.9,117.6 L193.7,106.9 L190.5,114.4 L188.4,105.9 L184.1,110.1 L183.1,102.7 L179.9,105.9 L177.7,98.4 L172.9,102.7 L173.5,92 L169.2,98.4 L170.3,85.6 L161.7,86.7 L171.3,78.7 L167.1,76 L166.8,67.3 L166,61.4 L160.9,67.3 L155.8,71.6 L156.7,67.3 L160.1,60.6 L164.3,53.8 L169.4,47.9 L165.1,48.7 L155.8,52.1Z" fill="#3bd13b" filter="url(#rough)"/>
<g fill="none" stroke="#5fe05f" stroke-width="0.8" stroke-linecap="round" opacity="0.9">
<path d="M186,44 Q172,36 163,28"/><path d="M188,42 Q195,34 206,33"/><path d="M190,46 Q204,44 213,55"/>
<path d="M184,48 Q168,48 154,52"/><path d="M186,52 Q178,62 170,68"/><path d="M190,86 Q180,92 176,100"/>
<path d="M192,84 Q196,96 196,108"/><path d="M188,80 Q176,80 166,86"/><path d="M194,80 Q200,86 204,94"/>
</g>

<!-- Pool -->
<rect x="238.7" y="124.7" width="238.6" height="106.6" fill="url(#water)" stroke="#6195cb" stroke-width="3.4"/>
<text class="b" font-size="28.5" x="358" y="180" text-anchor="middle" dominant-baseline="central" textLength="57" lengthAdjust="spacingAndGlyphs">Pool</text>

<!-- Pool House -->
<rect x="505.8" y="127.5" width="85.5" height="103.6" fill="#5cc6f4" stroke="#1b69a6" stroke-width="3.2"/>
<g transform="translate(551,180.2) rotate(90)">
<text class="b" font-size="24" x="0" y="-14.2" text-anchor="middle" dominant-baseline="central" textLength="46.5" lengthAdjust="spacingAndGlyphs">Pool</text>
<text class="b" font-size="24" x="0" y="14.2" text-anchor="middle" dominant-baseline="central" textLength="65" lengthAdjust="spacingAndGlyphs">House</text>
</g>

<!-- Office -->
<rect x="882.3" y="441.8" width="86" height="103.3" fill="#5cc6f4" stroke="#1b69a6" stroke-width="3.2"/>
<text class="b" font-size="21" transform="translate(921.5,493.4) rotate(90)" text-anchor="middle" dominant-baseline="central" textLength="61" lengthAdjust="spacingAndGlyphs">Office</text>

<!-- note -->
<text class="note" x="418.5" y="278" textLength="57" lengthAdjust="spacingAndGlyphs">Conch Villa</text>
<text class="note" x="418" y="296.2" textLength="48" lengthAdjust="spacingAndGlyphs">#6 (VRBO</text>
<text class="note" x="418.2" y="314.4" textLength="41.4" lengthAdjust="spacingAndGlyphs">883030)</text>
<text class="note" x="418.1" y="332.6" textLength="59.8" lengthAdjust="spacingAndGlyphs">Location on</text>
<text class="note" x="418" y="350.8" textLength="48" lengthAdjust="spacingAndGlyphs">Property.</text>

<!-- arrow -->
<path d="M413.5,358.6 H428 V428 H436 L420.7,453.5 L405.5,428 H413.5 Z" fill="#5a9ad2" stroke="#050a1c" stroke-width="2" stroke-linejoin="miter"/>

<!-- villas -->
<g transform="translate(230.7,550.6) rotate(-22.8)"><rect x="-31.8" y="-96.0" width="63.6" height="192" fill="#ccfefe" stroke="#1d6396" stroke-width="2.5"/><g transform="rotate(90) translate(0.5,-3)" class="vt"><text x="0" y="-13.5">Bay Villa #9</text><text x="0" y="13.5">Bayside</text></g></g>
<g transform="translate(306.6,560.2) rotate(-22.8)"><rect x="-31.8" y="-96.0" width="63.6" height="192" fill="#ccfefe" stroke="#1d6396" stroke-width="2.5"/><g transform="rotate(90) translate(0.5,-3)" class="vt"><text x="0" y="-13.5">Bay Villa # 8</text><text x="0" y="13.5">Bayside</text></g></g>
<g transform="translate(377.5,560.15) rotate(-22.8)"><rect x="-31.8" y="-96.0" width="63.6" height="192" fill="#ccfefe" stroke="#1d6396" stroke-width="2.5"/><g transform="rotate(90) translate(0.5,-3)" class="vt"><text x="0" y="-13.5">Bay Villa #7</text><text x="0" y="13.5">Bayside</text></g></g>
<g transform="translate(462.7,549.1) rotate(-22.8)"><rect x="-31.8" y="-96.0" width="63.6" height="192" fill="#fde8fd" stroke="#1d6396" stroke-width="2.5"/><g transform="rotate(90) translate(1.7,-3)" class="vt"><text x="0" y="-13.5">Conch Villa #6</text><text x="0" y="13.5">Bay View</text></g></g>
<g transform="translate(538.9,558.25) rotate(-22.8)"><rect x="-31.8" y="-96.5" width="63.6" height="193" fill="#fde8fd" stroke="#1d6396" stroke-width="2.5"/><g transform="rotate(90) translate(1.7,-3)" class="vt"><text x="0" y="-13.5">Conch Villa #5</text><text x="0" y="13.5">Bay View</text></g></g>
<g transform="translate(610.35,559.3) rotate(-22.8)"><rect x="-31.8" y="-96.5" width="63.6" height="193" fill="#fde8fd" stroke="#1d6396" stroke-width="2.5"/><g transform="rotate(90) translate(1.7,-3)" class="vt"><text x="0" y="-13.5">Conch Villa #4</text><text x="0" y="13.5">Bay View</text></g></g>
<g transform="translate(688.8,542.5) rotate(-22.8)"><rect x="-31.8" y="-99.5" width="63.6" height="199" fill="#e3fecc" stroke="#1d6396" stroke-width="2.5"/><g transform="rotate(90) translate(1.2,-3)" class="vt"><text x="0" y="-13.5">Key Lime Villa #3</text><text x="0" y="13.5">Park View</text></g></g>
<g transform="translate(765.8,552.7) rotate(-22.8)"><rect x="-31.8" y="-99.75" width="63.6" height="199.5" fill="#e3fecc" stroke="#1d6396" stroke-width="2.5"/><g transform="rotate(90) translate(1.2,-3)" class="vt"><text x="0" y="-13.5">Key Lime Villa #2</text><text x="0" y="13.5">Park View</text></g></g>
<g transform="translate(837,553.3) rotate(-22.8)"><rect x="-31.8" y="-100.0" width="63.6" height="200" fill="#e3fecc" stroke="#1d6396" stroke-width="2.5"/><g transform="rotate(90) translate(1.2,-3)" class="vt"><text x="0" y="-13.5">Key Lime Villa #1</text><text x="0" y="13.5">Park View</text></g></g>

<!-- bushes -->
<use href="#bush" transform="translate(146,668) scale(1.055,1)"/>
<use href="#bush" transform="translate(226,668) scale(1.055,1)"/>
<use href="#bush" transform="translate(292,668) scale(1.055,1)"/>
<use href="#bush" transform="translate(363,668) scale(1.055,1)"/>
<use href="#bush" transform="translate(440,668) scale(1.055,1)"/>
<use href="#bush" transform="translate(507,668) scale(1.055,1)"/>
<use href="#bush" transform="translate(582,668) scale(1.055,1)"/>
<use href="#bush" transform="translate(661,668) scale(1.055,1)"/>
<use href="#bush" transform="translate(742,668) scale(1.055,1)"/>
<use href="#bush" transform="translate(807,668) scale(1.055,1)"/>
<use href="#bush" transform="translate(879,668) scale(1.055,1)"/>

<!-- Logo -->
<g fill="none" stroke="#2b3193" stroke-linecap="round">
<path d="M794,92 Q804.5,122 806.8,156" stroke-width="3.4"/>
<path d="M824,117 Q812,131 806,150" stroke-width="3"/>
</g>
<path d="M763.3,91.8 L762.5,85.7 L764,76.7 L767.8,70.6 L773.1,64.6 L777.6,63.1 L782.9,64.6 L786,62.3 L789.7,59.7 L794.3,59.3 L798.8,60.8 L803.3,61.2 L809.4,60.4 L807.9,63.8 L804.9,66.1 L809.4,69.9 L813.9,75.2 L814.7,78.2 L810.9,76.7 L812.4,82.7 L813.2,85.7 L807.9,84.2 L803.3,82.7 L806.4,88 L807.1,89.5 L800.3,88.8 L797.3,91.8 L794.3,93.3 L790.5,96.3 L788.2,102.4 L789,107.7 L786,105.4 L783.7,99.3 L781.4,100.9 L778.4,106.9 L776.1,102.4 L775.4,97.1 L771.6,96.3 L767.8,100.1 L767.1,94.8 L767.8,88 L765.6,90.3Z M802.4,102.6 L803.5,99.4 L808.8,96.7 L802.4,92.9 L807.7,90.3 L815.2,91.9 L820.6,94 L821.6,89.7 L819.5,84.4 L823.8,86 L827,89.7 L831.2,94 L836.6,94 L839.8,91.9 L844,92.9 L846.2,96.7 L851.5,103.1 L846.2,103.6 L846.2,110 L844,120.7 L841.9,122.8 L840.8,117.5 L836.6,114.3 L834.4,120.7 L830.2,125 L829.1,119.6 L825.9,117.5 L823.8,118.6 L820.6,116.4 L815.2,118.6 L809.9,122.8 L812,115.4 L813.1,110 L806.7,110 L809.9,104.7Z" fill="#2b3193" stroke="#2b3193" stroke-width="0.6" stroke-linejoin="round"/>
<path d="M801.5,152.5 L805.5,149.5 L808.6,158.6 L806,159 Z" fill="#2b3193"/>
<path d="M763.5,80 Q769.3,76.3 776.9,75.6 T783.5,76.7 M768.5,69.8 Q773.1,67.2 780.7,68.8 M789.8,62.6 Q793.5,61.2 800.3,63.6 M799.8,72.2 Q806.4,71.6 811.5,76.3 M798.3,79 Q804.9,79.3 810.6,84.6 M766.5,86.2 Q770.1,83.8 776.6,82.5 M770.3,90.6 Q775.4,88.4 780.2,89.3 M790.8,85.5 Q795.8,88.4 798.8,93.6 M805.2,96.3 Q815.2,95.2 819.8,98.4 M805.6,105 Q812,103.2 817.6,104.7 M835.2,96.2 Q841.9,95.7 847.6,99.6 M830.8,103.7 Q838.7,104.3 845.5,109.4 M825.6,91.6 L828.2,95.4" fill="none" stroke="#fff" stroke-width="1.5" stroke-linecap="round"/>
<g fill="none" stroke="#282c78" stroke-width="3.1" stroke-linecap="round" stroke-linejoin="round">
<path d="M669.8,161.5 Q667.5,171 665.6,180.5 Q666,182 668.5,181.3 Q674,180 679.5,179.3"/>
<path d="M689.5,168 Q688,175 687,181.5"/>
<path d="M698.7,160.5 Q697.8,171 697.3,182"/>
<path d="M707.6,160.3 Q706.5,171 706,181.8"/>
<path d="M693,169 Q705,167.5 716.5,166.8"/>
<path d="M724.4,160 Q722.5,170 721.6,179.5 Q722,182 725,181.5"/>
<path d="M729.3,175.2 Q736,174.5 740,171 Q742,167 738.8,166.6 Q732,167.5 729.5,174 Q728.5,181.5 734.5,181.5 Q740,181.2 745.5,178.3"/>
<path d="M762,164.8 Q767,162 772,162.2 Q777,163 776.5,166.3 Q775,170 768.5,171 Q775.5,171 778.3,174.5 Q779,179.5 773,181.5 Q768,182.5 764.6,181.5"/>
<path d="M764.8,164.5 Q764.2,173 763.8,181"/>
<path d="M791.6,168.8 Q785.5,169.5 783,175 Q781.5,180.5 784.3,181 Q788.5,180.5 791.8,172"/>
<path d="M792.6,169.5 Q792.5,175 793.2,178.5 Q794,180 796,179.2 Q800,176.5 803.5,171.5"/>
<path d="M807.3,168 Q803.5,169.5 803.8,172 Q805.5,174 809,176.5 Q810,179.5 807.5,181.5 Q805,183.5 802.5,183.7"/>
<path d="M819.1,169.6 Q818,175 817.6,178.6 Q818.5,181.5 820.6,181 Q826,179 831,173"/>
<path d="M833.1,169.2 Q832,175 831.1,180.2 M831.6,176.5 Q834,171 838.5,170 Q841.5,170.5 841.3,174 Q841,178.5 843,180.5 Q846,181.5 849.7,178.1"/>
<path d="M862.7,160.5 Q867.5,171 872.2,181 Q877,170 882.7,162.2"/>
<path d="M888.8,169.9 Q888,176 887.7,180.5 Q888.5,182.5 890.4,182.1 Q893,181 895,179"/>
<path d="M904.8,161.1 Q902.5,170 901.5,179 Q902,181.8 903.7,181.6 Q907,180.5 909.8,178.2"/>
<path d="M916.1,160.5 Q914.5,170 913.9,178.2 Q914.5,181.5 917.2,181 Q921,179.5 924,176"/>
<path d="M934.3,168.8 Q929,169.5 927,173 Q924.5,178.5 926,181 Q928.5,181.8 931.6,178.2 Q933.5,174 934.3,170"/>
<path d="M934.9,168.8 Q934.8,174 934.9,178.2 Q935.8,180 938.2,179.3 Q941,177 943.7,173.3"/>
<path d="M950.4,168.3 Q946.5,170.5 946,173.3 Q950.5,175.5 951.5,177.5 Q951.5,181 947.1,183.2"/>
</g>
<g fill="#2a2e7c"><circle cx="689.6" cy="161.8" r="1.6"/><circle cx="820.2" cy="161.1" r="1.7"/><circle cx="891.5" cy="162.2" r="1.7"/></g>
<g fill="none" stroke="#4a4b58" stroke-width="1.35" stroke-linejoin="miter">
<path d="M669.3,190.5 V198.6"/>
<path d="M699.3,191.9 Q698,190.5 694.5,190.5 Q689.6,190.5 689.6,192.6 Q689.6,194.5 694.5,194.5 Q699.6,194.5 699.6,196.5 Q699.6,198.6 694.5,198.6 Q690.5,198.6 689.2,197.2"/>
<path d="M718.7,190.5 V198.6 H727.6"/>
<path d="M745.4,198.6 L751.6,190.5 L757.8,198.6 M747.8,195.9 H755.4"/>
<path d="M776.8,198.6 V190.5 L784.4,198.2 L792,190.5 V198.6"/>
<rect x="811.3" y="190.5" width="12.3" height="8.1" rx="2.4"/>
<path d="M842.2,198.6 V190.5 H851.6 Q853.8,190.5 853.8,192.6 Q853.8,194.6 851.6,194.6 H842.2 M850.6,194.6 L854,198.6"/>
<path d="M872.2,198.6 L878.4,190.5 L884.6,198.6 M874.6,195.9 H882.2"/>
<path d="M903.2,190.5 V198.6 H912.4 Q914.8,198.6 914.8,196.1 V193 Q914.8,190.5 912.4,190.5 Z"/>
<path d="M933.3,198.6 L939.5,190.5 L945.7,198.6 M935.7,195.9 H943.3"/>
</g>

</svg>
</body></html>
